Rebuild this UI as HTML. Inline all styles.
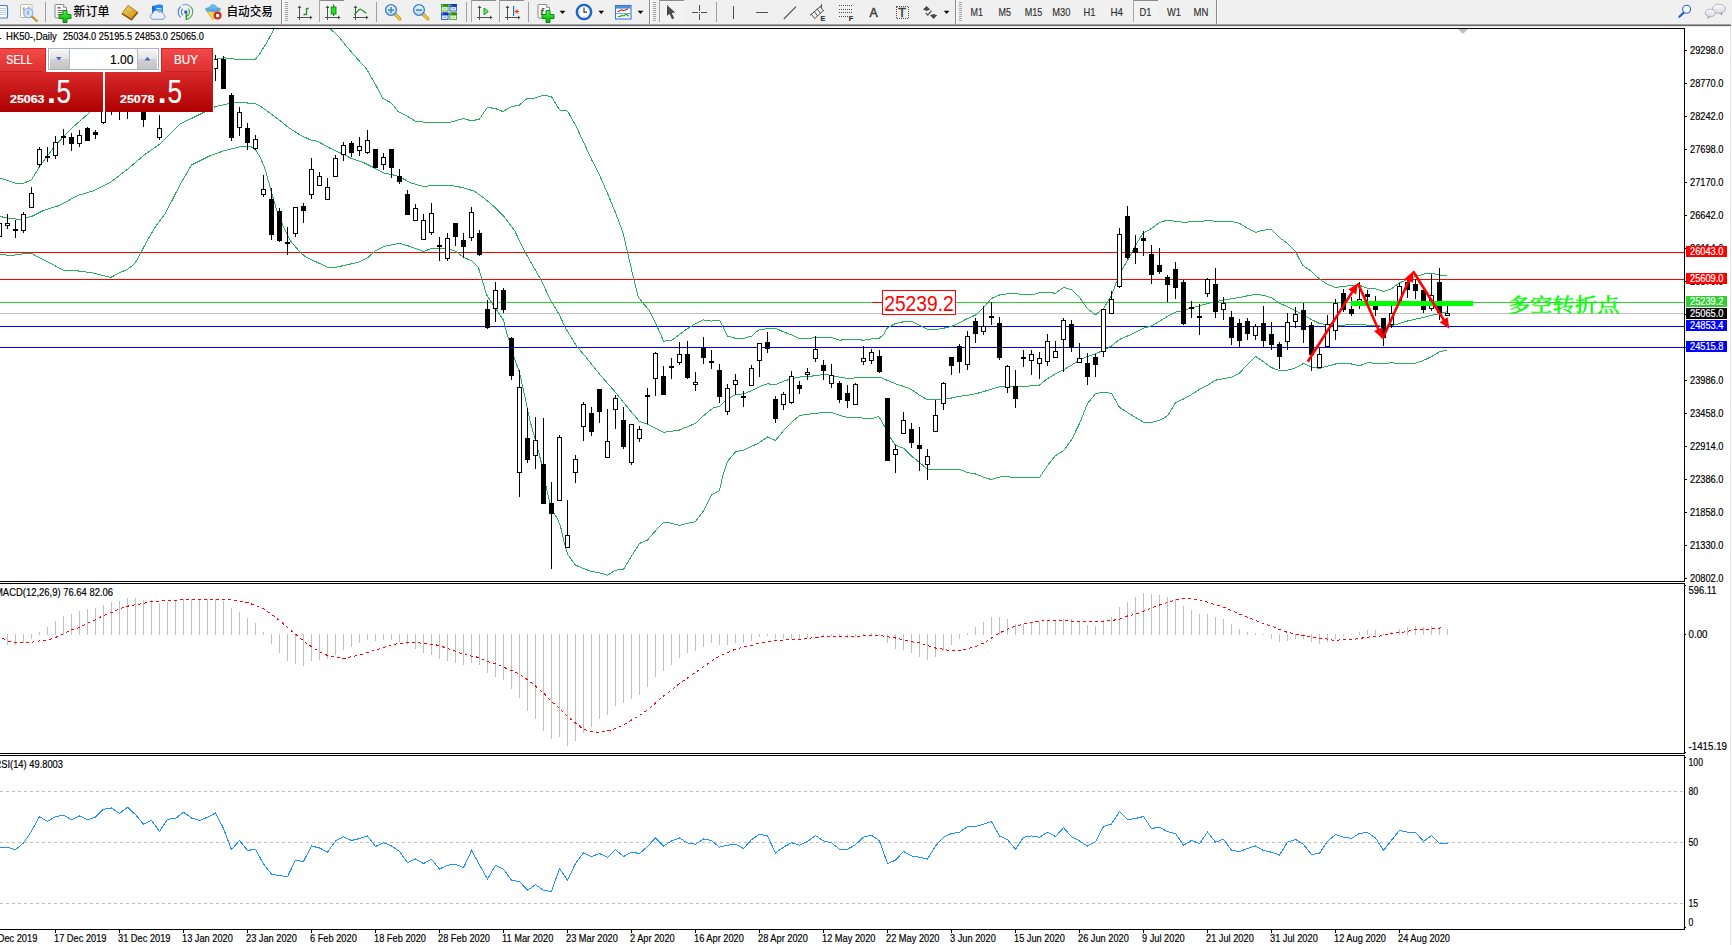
<!DOCTYPE html>
<html lang="zh"><head><meta charset="utf-8"><title>HK50-,Daily</title>
<style>
html,body{margin:0;padding:0;background:#fff;overflow:hidden}
svg{display:block;position:absolute;left:0;top:0}
text{font-family:'Liberation Sans','Noto Sans CJK SC',sans-serif;font-size:10.4px;fill:#000;stroke:#000;stroke-width:0.18px}
.w{fill:#fff;stroke:#fff}
.cj{font-family:'Liberation Serif','Noto Serif CJK SC',serif;font-weight:500}
</style></head><body>
<svg width="1732" height="945" viewBox="0 0 1732 945">
<defs>
<linearGradient id="gbig" x1="0" y1="0" x2="0" y2="1"><stop offset="0" stop-color="#d82a2a"/><stop offset="1" stop-color="#ae0000"/></linearGradient>
<linearGradient id="gbtn" x1="0" y1="0" x2="0" y2="1"><stop offset="0" stop-color="#f24b4b"/><stop offset="1" stop-color="#de3030"/></linearGradient>
<linearGradient id="gsp" x1="0" y1="0" x2="0" y2="1"><stop offset="0" stop-color="#f4f4f4"/><stop offset="0.5" stop-color="#e2e2e2"/><stop offset="0.5" stop-color="#d2d2d2"/><stop offset="1" stop-color="#c4c4c4"/></linearGradient>
<clipPath id="cm"><rect x="0" y="29" width="1684" height="552"/></clipPath>
</defs>
<rect width="1732" height="945" fill="#fff"/>

<g shape-rendering="crispEdges">
<rect x="0" y="0" width="1732" height="25" fill="#f0f0f0"/>
<rect x="0" y="24" width="1731" height="1" fill="#a0a0a0"/>
<rect x="0" y="25" width="1731" height="1" fill="#696969"/>
<rect x="0" y="26" width="1732" height="1" fill="#e3e3e3"/>
<rect x="1730" y="26" width="1" height="919" fill="#e6e6e6"/>
<rect x="1731" y="26" width="1" height="919" fill="#fbfbfb"/>
<rect x="0" y="28" width="1685" height="1" fill="#000"/>
<rect x="1684" y="28" width="1" height="902" fill="#000"/>
<rect x="0" y="581" width="1685" height="1" fill="#000"/>
<rect x="0" y="583" width="1685" height="1" fill="#000"/>
<rect x="0" y="753" width="1685" height="1" fill="#000"/>
<rect x="0" y="755" width="1685" height="1" fill="#000"/>
<rect x="0" y="929" width="1685" height="1" fill="#000"/>
<rect x="1684" y="582" width="1" height="1" fill="#fff"/>
<rect x="1684" y="754" width="1" height="1" fill="#fff"/>
</g>
<g shape-rendering="crispEdges">
<rect x="0" y="252" width="1684" height="1" fill="#ff0000"/>
<rect x="0" y="279" width="1684" height="1" fill="#ff0000"/>
<rect x="0" y="302" width="1684" height="1" fill="#32cd32"/>
<rect x="0" y="313" width="1684" height="1" fill="#c0c0c0"/>
<rect x="0" y="326" width="1684" height="1" fill="#0000ff"/>
<rect x="0" y="347" width="1684" height="1" fill="#0000ff"/>
</g>
<g clip-path="url(#cm)" shape-rendering="crispEdges">
<polyline points="0.0,178.1 15.0,183.1 24.0,183.1 31.6,179.7 39.4,166.9 55.5,145.0 71.4,128.6 87.5,114.3 103.0,100.0 215.7,59.2 223.8,57.8 236.0,59.2 255.6,59.2 260.0,53.4 267.2,41.9 274.3,28.6 275.5,27.0" fill="none" stroke="#28ad63" stroke-width="1" />
<polyline points="329.0,27.0 330.2,28.6 339.0,37.0 347.8,47.9 356.5,57.8 366.4,68.8 374.1,82.0 382.9,98.4 391.6,103.2 398.2,111.6 407.0,116.0 415.8,121.4 428.9,122.5 450.9,122.1 463.0,118.6 471.7,120.8 479.4,119.2 487.1,107.6 494.8,108.3 502.9,111.6 511.2,106.7 518.9,105.4 527.2,98.4 535.3,98.0 543.5,95.1 551.4,96.6 559.5,110.0 567.6,111.1 575.9,125.8 583.6,142.3 591.7,159.8 599.6,175.2 607.7,193.8 615.4,212.5 623.1,232.9 631.6,270.0 634.1,280.0 638.3,296.8 642.5,302.7 649.2,310.2 655.9,323.6 663.6,341.2 671.6,340.3 679.5,334.5 687.5,328.6 695.6,323.6 703.6,319.9 711.6,321.1 719.5,320.2 722.8,326.9 727.5,336.1 735.6,338.3 743.6,338.3 751.6,336.1 758.4,330.2 767.4,328.5 775.5,328.2 783.5,331.9 791.5,334.9 799.4,338.6 807.4,338.9 815.5,337.4 823.5,337.4 831.5,337.4 839.6,340.2 847.6,339.4 855.5,339.4 863.5,340.2 871.6,338.9 879.4,338.2 884.0,333.9 887.5,327.7 895.5,323.5 903.5,321.8 911.6,321.3 919.5,325.2 927.5,329.4 935.5,329.7 943.6,328.2 951.6,326.5 959.5,322.7 967.5,318.5 975.6,315.1 983.6,307.6 991.6,298.4 999.5,295.0 1007.5,293.7 1015.6,293.7 1023.6,294.5 1031.6,295.0 1038.4,292.9 1047.4,292.1 1055.5,293.3 1063.5,287.4 1071.5,289.6 1079.4,297.1 1087.4,308.8 1095.5,314.7 1103.5,308.5 1111.5,295.4 1119.6,273.7 1127.6,260.3 1135.5,245.2 1143.5,232.7 1151.6,228.5 1159.4,222.6 1167.5,220.1 1175.5,221.4 1183.5,222.3 1191.6,221.8 1199.5,221.8 1207.5,220.4 1215.5,221.3 1223.6,221.3 1231.6,221.3 1239.5,223.4 1247.5,228.1 1255.6,232.3 1263.6,230.1 1271.6,229.6 1279.5,237.7 1287.5,243.5 1295.6,251.9 1302.6,265.2 1311.5,271.5 1319.5,279.1 1327.5,284.5 1335.5,287.4 1343.5,286.5 1351.5,285.5 1359.5,285.2 1367.5,288.3 1375.5,288.7 1383.5,291.6 1391.5,288.7 1399.5,282.9 1407.5,279.4 1415.5,276.6 1423.5,274.1 1431.5,273.2 1439.5,275.1 1446.8,275.3" fill="none" stroke="#28ad63" stroke-width="1" />
<polyline points="0.0,216.5 7.5,218.0 19.5,219.5 31.4,216.5 43.6,210.5 60.0,205.2 78.0,195.4 93.0,190.9 111.0,181.9 127.7,169.1 144.3,154.9 159.5,144.3 180.3,124.0 199.9,114.3 214.9,106.8 231.4,103.0 240.5,102.3 255.5,103.8 260.0,106.0 270.0,113.0 279.3,120.0 288.5,127.5 300.2,135.1 310.3,139.8 317.8,141.4 328.7,147.6 343.4,154.3 351.5,158.5 363.9,162.7 375.6,168.6 384.0,173.2 391.5,174.4 399.5,176.9 410.7,182.8 423.5,186.5 434.2,185.3 450.9,185.3 463.5,187.8 474.4,191.2 484.4,198.4 492.8,205.4 504.5,217.1 514.6,230.5 521.3,244.7 528.0,257.3 534.7,269.0 535.3,270.0 542.0,281.7 550.4,300.1 558.7,313.5 565.4,327.8 577.2,347.0 587.2,358.7 600.6,375.5 614.0,390.6 623.5,402.3 631.6,412.3 639.5,421.5 647.5,424.3 655.5,428.4 663.6,432.4 671.6,431.2 679.5,430.0 687.5,426.7 695.6,423.2 703.6,415.7 712.8,408.1 719.5,406.5 727.5,398.9 735.6,394.7 743.6,393.9 751.6,390.6 758.4,387.1 767.4,383.8 775.5,384.6 783.5,381.3 791.5,378.7 799.4,377.1 807.4,376.2 815.5,375.9 823.5,374.2 831.5,375.4 839.6,377.1 847.6,378.4 855.5,377.9 863.5,377.9 871.6,377.9 879.4,377.1 887.5,380.4 895.5,383.8 903.5,386.3 911.6,389.6 919.5,395.2 927.5,399.7 935.5,400.0 943.6,398.8 951.6,398.0 959.5,396.3 967.5,395.2 975.6,393.8 983.6,391.6 991.6,389.1 999.5,386.8 1007.5,385.9 1015.6,386.3 1023.6,386.3 1031.6,385.9 1039.2,385.3 1047.4,378.6 1055.5,373.9 1063.5,369.7 1071.5,365.2 1079.4,360.1 1087.4,356.5 1095.5,353.8 1103.5,350.2 1111.5,346.0 1119.6,339.4 1127.6,336.0 1135.5,332.3 1143.5,328.1 1151.6,325.9 1159.4,321.4 1167.5,316.4 1175.5,312.2 1183.5,310.5 1191.6,308.0 1199.5,305.8 1207.5,303.5 1215.5,301.6 1223.6,300.1 1231.6,298.8 1239.5,297.5 1247.5,295.8 1255.6,294.3 1263.6,295.4 1271.6,297.6 1279.5,303.3 1287.5,306.7 1295.6,310.7 1303.5,314.7 1311.5,319.6 1319.5,323.5 1327.5,324.6 1335.5,325.5 1343.5,325.1 1351.5,324.6 1359.5,324.6 1367.5,325.1 1375.5,325.5 1383.5,326.4 1391.5,325.5 1399.5,323.6 1407.5,321.0 1415.5,319.1 1423.5,317.5 1431.5,315.3 1439.5,313.7 1446.8,311.9" fill="none" stroke="#28ad63" stroke-width="1" />
<polyline points="0.0,254.6 12.1,255.4 22.5,254.0 31.2,253.2 39.8,258.0 52.0,264.1 63.2,270.2 76.2,270.7 91.8,272.8 110.9,277.4 119.5,272.8 128.2,268.9 135.1,263.2 140.3,253.7 147.2,240.5 155.9,226.0 165.3,213.5 180.3,184.2 191.6,164.9 210.4,155.6 225.4,150.3 240.5,146.6 250.0,146.0 255.5,149.8 260.0,156.8 265.0,168.6 271.4,192.0 276.8,210.4 283.5,227.2 290.2,240.6 300.2,252.3 305.3,256.5 317.0,262.3 327.9,267.4 337.1,267.0 350.5,264.0 358.8,262.3 367.2,258.1 375.6,250.6 384.0,246.4 399.5,243.4 407.4,245.6 423.5,251.4 431.5,248.6 439.5,248.6 447.6,248.1 455.6,251.4 463.5,257.3 471.5,260.7 477.7,266.5 479.2,270.0 482.6,281.7 486.7,295.1 493.4,305.2 503.5,320.2 506.0,330.3 511.5,348.7 515.2,360.4 519.4,372.1 523.6,390.6 527.4,409.0 530.3,422.0 534.5,437.1 538.7,452.1 542.0,465.5 546.2,487.3 551.5,509.1 557.1,518.3 560.4,525.8 563.8,540.9 567.6,554.3 575.5,565.2 583.5,568.5 591.6,571.5 599.4,572.7 607.5,575.2 615.5,570.2 623.5,569.4 631.6,556.0 639.5,543.4 647.5,540.0 655.5,530.8 663.6,522.1 671.6,523.3 679.5,525.3 687.5,523.3 695.6,521.6 703.6,510.7 711.6,494.8 719.5,490.7 722.8,475.6 727.5,461.3 735.6,451.8 743.6,450.1 751.6,446.3 758.4,443.2 767.4,437.0 775.5,440.4 783.5,430.7 791.5,422.3 799.4,415.6 807.4,414.2 815.5,413.6 823.5,412.2 831.5,412.6 839.6,415.3 847.6,417.3 855.5,417.6 863.5,418.1 871.6,418.9 878.7,416.3 885.0,427.1 889.8,436.8 895.5,445.2 903.5,448.2 911.4,456.0 919.5,462.5 927.5,469.4 935.4,469.4 943.5,469.4 959.8,469.4 967.5,472.6 975.5,474.0 983.4,477.1 991.4,479.6 999.3,477.1 1004.2,476.1 1012.5,477.5 1039.5,477.5 1047.4,465.6 1055.5,455.6 1063.5,450.9 1071.5,439.7 1079.4,423.8 1087.4,403.7 1095.5,393.6 1103.5,392.3 1111.5,393.3 1119.6,407.5 1127.6,412.6 1135.5,417.4 1143.5,422.1 1151.6,422.4 1159.4,420.4 1167.5,415.9 1175.5,402.8 1183.5,399.0 1191.6,394.5 1199.5,389.4 1207.5,385.3 1215.5,380.2 1223.6,378.6 1231.6,377.2 1239.5,373.2 1247.5,364.3 1255.6,356.3 1263.6,361.8 1271.6,367.7 1279.5,370.5 1287.5,370.2 1295.6,367.9 1303.6,363.4 1311.6,367.3 1319.5,368.4 1327.5,366.1 1335.5,364.0 1343.5,363.6 1351.5,364.0 1359.5,365.8 1367.5,362.7 1375.5,363.2 1383.5,363.6 1391.5,362.7 1399.5,363.6 1407.5,363.6 1415.5,363.2 1423.5,360.4 1431.5,356.6 1439.5,351.8 1446.8,350.3" fill="none" stroke="#28ad63" stroke-width="1" />
</g>
<g clip-path="url(#cm)" shape-rendering="crispEdges">
<rect x="-3.5" y="223.5" width="5" height="13" fill="#fff" stroke="#000" stroke-width="1"/>
<rect x="7" y="214" width="1" height="15" fill="#000"/>
<rect x="5" y="223" width="5" height="3" fill="#000"/>
<rect x="6" y="224" width="3" height="1" fill="#fff"/>
<rect x="15" y="220" width="1" height="18" fill="#000"/>
<rect x="13" y="229" width="5" height="2" fill="#000"/>
<rect x="23" y="212" width="1" height="21" fill="#000"/>
<rect x="21" y="214" width="5" height="17" fill="#000"/>
<rect x="22" y="215" width="3" height="15" fill="#fff"/>
<rect x="31" y="187" width="1" height="21" fill="#000"/>
<rect x="29" y="193" width="5" height="15" fill="#000"/>
<rect x="30" y="194" width="3" height="13" fill="#fff"/>
<rect x="39" y="147" width="1" height="20" fill="#000"/>
<rect x="37" y="149" width="5" height="16" fill="#000"/>
<rect x="38" y="150" width="3" height="14" fill="#fff"/>
<rect x="47" y="147" width="1" height="15" fill="#000"/>
<rect x="45" y="156" width="5" height="2" fill="#000"/>
<rect x="55" y="136" width="1" height="23" fill="#000"/>
<rect x="53" y="142" width="5" height="14" fill="#000"/>
<rect x="54" y="143" width="3" height="12" fill="#fff"/>
<rect x="63" y="129" width="1" height="16" fill="#000"/>
<rect x="61" y="136" width="5" height="2" fill="#000"/>
<rect x="71" y="133" width="1" height="18" fill="#000"/>
<rect x="69" y="137" width="5" height="7" fill="#000"/>
<rect x="79" y="130" width="1" height="17" fill="#000"/>
<rect x="77" y="135" width="5" height="9" fill="#000"/>
<rect x="78" y="136" width="3" height="7" fill="#fff"/>
<rect x="87" y="127" width="1" height="14" fill="#000"/>
<rect x="85" y="128" width="5" height="13" fill="#000"/>
<rect x="95" y="130" width="1" height="9" fill="#000"/>
<rect x="93" y="132" width="5" height="3" fill="#000"/>
<rect x="103" y="100" width="1" height="24" fill="#000"/>
<rect x="101" y="100" width="5" height="23" fill="#000"/>
<rect x="102" y="101" width="3" height="21" fill="#fff"/>
<rect x="111" y="100" width="1" height="15" fill="#000"/>
<rect x="109" y="100" width="5" height="11" fill="#000"/>
<rect x="110" y="101" width="3" height="9" fill="#fff"/>
<rect x="119" y="100" width="1" height="20" fill="#000"/>
<rect x="117" y="100" width="5" height="11" fill="#000"/>
<rect x="118" y="101" width="3" height="9" fill="#fff"/>
<rect x="127" y="100" width="1" height="19" fill="#000"/>
<rect x="125" y="100" width="5" height="11" fill="#000"/>
<rect x="126" y="101" width="3" height="9" fill="#fff"/>
<rect x="143" y="100" width="1" height="27" fill="#000"/>
<rect x="141" y="100" width="5" height="20" fill="#000"/>
<rect x="159" y="115" width="1" height="25" fill="#000"/>
<rect x="157" y="128" width="5" height="10" fill="#000"/>
<rect x="158" y="129" width="3" height="8" fill="#fff"/>
<rect x="215" y="55" width="1" height="26" fill="#000"/>
<rect x="213" y="59" width="5" height="10" fill="#000"/>
<rect x="214" y="60" width="3" height="8" fill="#fff"/>
<rect x="223" y="56" width="1" height="33" fill="#000"/>
<rect x="221" y="59" width="5" height="30" fill="#000"/>
<rect x="231" y="93" width="1" height="48" fill="#000"/>
<rect x="229" y="95" width="5" height="43" fill="#000"/>
<rect x="239" y="107" width="1" height="29" fill="#000"/>
<rect x="237" y="112" width="5" height="16" fill="#000"/>
<rect x="238" y="113" width="3" height="14" fill="#fff"/>
<rect x="247" y="123" width="1" height="27" fill="#000"/>
<rect x="245" y="128" width="5" height="15" fill="#000"/>
<rect x="255" y="135" width="1" height="15" fill="#000"/>
<rect x="253" y="139" width="5" height="10" fill="#000"/>
<rect x="254" y="140" width="3" height="8" fill="#fff"/>
<rect x="263" y="175" width="1" height="22" fill="#000"/>
<rect x="261" y="189" width="5" height="6" fill="#000"/>
<rect x="262" y="190" width="3" height="4" fill="#fff"/>
<rect x="271" y="188" width="1" height="52" fill="#000"/>
<rect x="269" y="199" width="5" height="36" fill="#000"/>
<rect x="279" y="208" width="1" height="34" fill="#000"/>
<rect x="277" y="211" width="5" height="30" fill="#000"/>
<rect x="287" y="227" width="1" height="28" fill="#000"/>
<rect x="285" y="242" width="5" height="2" fill="#000"/>
<rect x="295" y="207" width="1" height="30" fill="#000"/>
<rect x="293" y="207" width="5" height="27" fill="#000"/>
<rect x="294" y="208" width="3" height="25" fill="#fff"/>
<rect x="303" y="203" width="1" height="20" fill="#000"/>
<rect x="301" y="206" width="5" height="5" fill="#000"/>
<rect x="311" y="158" width="1" height="41" fill="#000"/>
<rect x="309" y="169" width="5" height="26" fill="#000"/>
<rect x="310" y="170" width="3" height="24" fill="#fff"/>
<rect x="319" y="172" width="1" height="14" fill="#000"/>
<rect x="317" y="176" width="5" height="10" fill="#000"/>
<rect x="318" y="177" width="3" height="8" fill="#fff"/>
<rect x="327" y="178" width="1" height="22" fill="#000"/>
<rect x="325" y="187" width="5" height="13" fill="#000"/>
<rect x="326" y="188" width="3" height="11" fill="#fff"/>
<rect x="335" y="155" width="1" height="22" fill="#000"/>
<rect x="333" y="158" width="5" height="19" fill="#000"/>
<rect x="334" y="159" width="3" height="17" fill="#fff"/>
<rect x="343" y="142" width="1" height="19" fill="#000"/>
<rect x="341" y="145" width="5" height="10" fill="#000"/>
<rect x="342" y="146" width="3" height="8" fill="#fff"/>
<rect x="351" y="141" width="1" height="16" fill="#000"/>
<rect x="349" y="143" width="5" height="10" fill="#000"/>
<rect x="359" y="137" width="1" height="19" fill="#000"/>
<rect x="357" y="146" width="5" height="5" fill="#000"/>
<rect x="358" y="147" width="3" height="3" fill="#fff"/>
<rect x="367" y="130" width="1" height="24" fill="#000"/>
<rect x="365" y="140" width="5" height="13" fill="#000"/>
<rect x="366" y="141" width="3" height="11" fill="#fff"/>
<rect x="375" y="149" width="1" height="19" fill="#000"/>
<rect x="373" y="149" width="5" height="19" fill="#000"/>
<rect x="383" y="153" width="1" height="17" fill="#000"/>
<rect x="381" y="157" width="5" height="8" fill="#000"/>
<rect x="382" y="158" width="3" height="6" fill="#fff"/>
<rect x="391" y="149" width="1" height="29" fill="#000"/>
<rect x="389" y="149" width="5" height="19" fill="#000"/>
<rect x="399" y="169" width="1" height="15" fill="#000"/>
<rect x="397" y="176" width="5" height="6" fill="#000"/>
<rect x="407" y="190" width="1" height="25" fill="#000"/>
<rect x="405" y="194" width="5" height="21" fill="#000"/>
<rect x="415" y="204" width="1" height="17" fill="#000"/>
<rect x="413" y="208" width="5" height="13" fill="#000"/>
<rect x="414" y="209" width="3" height="11" fill="#fff"/>
<rect x="423" y="214" width="1" height="26" fill="#000"/>
<rect x="421" y="220" width="5" height="20" fill="#000"/>
<rect x="422" y="221" width="3" height="18" fill="#fff"/>
<rect x="431" y="203" width="1" height="32" fill="#000"/>
<rect x="429" y="213" width="5" height="20" fill="#000"/>
<rect x="430" y="214" width="3" height="18" fill="#fff"/>
<rect x="439" y="237" width="1" height="24" fill="#000"/>
<rect x="437" y="245" width="5" height="2" fill="#000"/>
<rect x="447" y="233" width="1" height="28" fill="#000"/>
<rect x="445" y="238" width="5" height="21" fill="#000"/>
<rect x="446" y="239" width="3" height="19" fill="#fff"/>
<rect x="455" y="223" width="1" height="23" fill="#000"/>
<rect x="453" y="223" width="5" height="14" fill="#000"/>
<rect x="463" y="233" width="1" height="25" fill="#000"/>
<rect x="461" y="240" width="5" height="7" fill="#000"/>
<rect x="471" y="207" width="1" height="34" fill="#000"/>
<rect x="469" y="212" width="5" height="26" fill="#000"/>
<rect x="470" y="213" width="3" height="24" fill="#fff"/>
<rect x="479" y="230" width="1" height="26" fill="#000"/>
<rect x="477" y="233" width="5" height="22" fill="#000"/>
<rect x="487" y="300" width="1" height="29" fill="#000"/>
<rect x="485" y="309" width="5" height="19" fill="#000"/>
<rect x="495" y="282" width="1" height="40" fill="#000"/>
<rect x="493" y="290" width="5" height="19" fill="#000"/>
<rect x="494" y="291" width="3" height="17" fill="#fff"/>
<rect x="503" y="288" width="1" height="25" fill="#000"/>
<rect x="501" y="290" width="5" height="20" fill="#000"/>
<rect x="511" y="337" width="1" height="43" fill="#000"/>
<rect x="509" y="338" width="5" height="38" fill="#000"/>
<rect x="519" y="370" width="1" height="127" fill="#000"/>
<rect x="517" y="387" width="5" height="86" fill="#000"/>
<rect x="518" y="388" width="3" height="84" fill="#fff"/>
<rect x="527" y="408" width="1" height="55" fill="#000"/>
<rect x="525" y="438" width="5" height="22" fill="#000"/>
<rect x="535" y="417" width="1" height="52" fill="#000"/>
<rect x="533" y="440" width="5" height="16" fill="#000"/>
<rect x="534" y="441" width="3" height="14" fill="#fff"/>
<rect x="543" y="418" width="1" height="86" fill="#000"/>
<rect x="541" y="464" width="5" height="40" fill="#000"/>
<rect x="551" y="482" width="1" height="87" fill="#000"/>
<rect x="549" y="503" width="5" height="11" fill="#000"/>
<rect x="559" y="435" width="1" height="66" fill="#000"/>
<rect x="557" y="437" width="5" height="64" fill="#000"/>
<rect x="558" y="438" width="3" height="62" fill="#fff"/>
<rect x="567" y="500" width="1" height="48" fill="#000"/>
<rect x="565" y="535" width="5" height="13" fill="#000"/>
<rect x="566" y="536" width="3" height="11" fill="#fff"/>
<rect x="575" y="455" width="1" height="28" fill="#000"/>
<rect x="573" y="459" width="5" height="14" fill="#000"/>
<rect x="574" y="460" width="3" height="12" fill="#fff"/>
<rect x="583" y="402" width="1" height="39" fill="#000"/>
<rect x="581" y="404" width="5" height="23" fill="#000"/>
<rect x="582" y="405" width="3" height="21" fill="#fff"/>
<rect x="591" y="407" width="1" height="29" fill="#000"/>
<rect x="589" y="413" width="5" height="19" fill="#000"/>
<rect x="599" y="389" width="1" height="34" fill="#000"/>
<rect x="597" y="389" width="5" height="23" fill="#000"/>
<rect x="607" y="409" width="1" height="49" fill="#000"/>
<rect x="605" y="441" width="5" height="17" fill="#000"/>
<rect x="606" y="442" width="3" height="15" fill="#fff"/>
<rect x="615" y="395" width="1" height="34" fill="#000"/>
<rect x="613" y="398" width="5" height="12" fill="#000"/>
<rect x="614" y="399" width="3" height="10" fill="#fff"/>
<rect x="623" y="407" width="1" height="42" fill="#000"/>
<rect x="621" y="420" width="5" height="27" fill="#000"/>
<rect x="631" y="424" width="1" height="41" fill="#000"/>
<rect x="629" y="424" width="5" height="39" fill="#000"/>
<rect x="630" y="425" width="3" height="37" fill="#fff"/>
<rect x="639" y="426" width="1" height="16" fill="#000"/>
<rect x="637" y="429" width="5" height="10" fill="#000"/>
<rect x="638" y="430" width="3" height="8" fill="#fff"/>
<rect x="647" y="388" width="1" height="36" fill="#000"/>
<rect x="645" y="395" width="5" height="2" fill="#000"/>
<rect x="655" y="352" width="1" height="44" fill="#000"/>
<rect x="653" y="353" width="5" height="26" fill="#000"/>
<rect x="654" y="354" width="3" height="24" fill="#fff"/>
<rect x="663" y="366" width="1" height="29" fill="#000"/>
<rect x="661" y="376" width="5" height="19" fill="#000"/>
<rect x="671" y="358" width="1" height="21" fill="#000"/>
<rect x="669" y="366" width="5" height="2" fill="#000"/>
<rect x="679" y="342" width="1" height="23" fill="#000"/>
<rect x="677" y="354" width="5" height="9" fill="#000"/>
<rect x="678" y="355" width="3" height="7" fill="#fff"/>
<rect x="687" y="341" width="1" height="38" fill="#000"/>
<rect x="685" y="354" width="5" height="24" fill="#000"/>
<rect x="695" y="372" width="1" height="19" fill="#000"/>
<rect x="693" y="382" width="5" height="3" fill="#000"/>
<rect x="694" y="383" width="3" height="1" fill="#fff"/>
<rect x="703" y="337" width="1" height="27" fill="#000"/>
<rect x="701" y="348" width="5" height="10" fill="#000"/>
<rect x="711" y="350" width="1" height="19" fill="#000"/>
<rect x="709" y="361" width="5" height="2" fill="#000"/>
<rect x="719" y="364" width="1" height="39" fill="#000"/>
<rect x="717" y="370" width="5" height="27" fill="#000"/>
<rect x="727" y="384" width="1" height="31" fill="#000"/>
<rect x="725" y="388" width="5" height="24" fill="#000"/>
<rect x="726" y="389" width="3" height="22" fill="#fff"/>
<rect x="735" y="374" width="1" height="21" fill="#000"/>
<rect x="733" y="380" width="5" height="5" fill="#000"/>
<rect x="734" y="381" width="3" height="3" fill="#fff"/>
<rect x="743" y="391" width="1" height="16" fill="#000"/>
<rect x="741" y="396" width="5" height="2" fill="#000"/>
<rect x="751" y="365" width="1" height="21" fill="#000"/>
<rect x="749" y="368" width="5" height="18" fill="#000"/>
<rect x="750" y="369" width="3" height="16" fill="#fff"/>
<rect x="759" y="343" width="1" height="34" fill="#000"/>
<rect x="757" y="343" width="5" height="18" fill="#000"/>
<rect x="758" y="344" width="3" height="16" fill="#fff"/>
<rect x="767" y="332" width="1" height="21" fill="#000"/>
<rect x="765" y="342" width="5" height="7" fill="#000"/>
<rect x="775" y="396" width="1" height="27" fill="#000"/>
<rect x="773" y="399" width="5" height="20" fill="#000"/>
<rect x="783" y="392" width="1" height="18" fill="#000"/>
<rect x="781" y="394" width="5" height="11" fill="#000"/>
<rect x="782" y="395" width="3" height="9" fill="#fff"/>
<rect x="791" y="371" width="1" height="33" fill="#000"/>
<rect x="789" y="376" width="5" height="27" fill="#000"/>
<rect x="790" y="377" width="3" height="25" fill="#fff"/>
<rect x="799" y="381" width="1" height="13" fill="#000"/>
<rect x="797" y="385" width="5" height="4" fill="#000"/>
<rect x="807" y="368" width="1" height="12" fill="#000"/>
<rect x="805" y="372" width="5" height="3" fill="#000"/>
<rect x="806" y="373" width="3" height="1" fill="#fff"/>
<rect x="815" y="336" width="1" height="26" fill="#000"/>
<rect x="813" y="349" width="5" height="10" fill="#000"/>
<rect x="814" y="350" width="3" height="8" fill="#fff"/>
<rect x="823" y="360" width="1" height="20" fill="#000"/>
<rect x="821" y="365" width="5" height="6" fill="#000"/>
<rect x="831" y="364" width="1" height="24" fill="#000"/>
<rect x="829" y="375" width="5" height="9" fill="#000"/>
<rect x="830" y="376" width="3" height="7" fill="#fff"/>
<rect x="839" y="381" width="1" height="22" fill="#000"/>
<rect x="837" y="383" width="5" height="17" fill="#000"/>
<rect x="847" y="385" width="1" height="23" fill="#000"/>
<rect x="845" y="393" width="5" height="8" fill="#000"/>
<rect x="855" y="383" width="1" height="22" fill="#000"/>
<rect x="853" y="384" width="5" height="21" fill="#000"/>
<rect x="854" y="385" width="3" height="19" fill="#fff"/>
<rect x="863" y="346" width="1" height="19" fill="#000"/>
<rect x="861" y="358" width="5" height="4" fill="#000"/>
<rect x="862" y="359" width="3" height="2" fill="#fff"/>
<rect x="871" y="349" width="1" height="15" fill="#000"/>
<rect x="869" y="352" width="5" height="9" fill="#000"/>
<rect x="870" y="353" width="3" height="7" fill="#fff"/>
<rect x="879" y="350" width="1" height="23" fill="#000"/>
<rect x="877" y="356" width="5" height="16" fill="#000"/>
<rect x="887" y="398" width="1" height="63" fill="#000"/>
<rect x="885" y="398" width="5" height="63" fill="#000"/>
<rect x="895" y="445" width="1" height="28" fill="#000"/>
<rect x="893" y="449" width="5" height="6" fill="#000"/>
<rect x="894" y="450" width="3" height="4" fill="#fff"/>
<rect x="903" y="412" width="1" height="22" fill="#000"/>
<rect x="901" y="420" width="5" height="14" fill="#000"/>
<rect x="902" y="421" width="3" height="12" fill="#fff"/>
<rect x="911" y="423" width="1" height="25" fill="#000"/>
<rect x="909" y="429" width="5" height="14" fill="#000"/>
<rect x="919" y="427" width="1" height="44" fill="#000"/>
<rect x="917" y="445" width="5" height="4" fill="#000"/>
<rect x="927" y="449" width="1" height="31" fill="#000"/>
<rect x="925" y="456" width="5" height="9" fill="#000"/>
<rect x="926" y="457" width="3" height="7" fill="#fff"/>
<rect x="935" y="400" width="1" height="32" fill="#000"/>
<rect x="933" y="415" width="5" height="17" fill="#000"/>
<rect x="934" y="416" width="3" height="15" fill="#fff"/>
<rect x="943" y="382" width="1" height="28" fill="#000"/>
<rect x="941" y="383" width="5" height="21" fill="#000"/>
<rect x="942" y="384" width="3" height="19" fill="#fff"/>
<rect x="951" y="357" width="1" height="18" fill="#000"/>
<rect x="949" y="357" width="5" height="9" fill="#000"/>
<rect x="959" y="344" width="1" height="29" fill="#000"/>
<rect x="957" y="346" width="5" height="16" fill="#000"/>
<rect x="967" y="331" width="1" height="39" fill="#000"/>
<rect x="965" y="336" width="5" height="29" fill="#000"/>
<rect x="966" y="337" width="3" height="27" fill="#fff"/>
<rect x="975" y="318" width="1" height="25" fill="#000"/>
<rect x="973" y="321" width="5" height="13" fill="#000"/>
<rect x="983" y="306" width="1" height="29" fill="#000"/>
<rect x="981" y="326" width="5" height="6" fill="#000"/>
<rect x="982" y="327" width="3" height="4" fill="#fff"/>
<rect x="991" y="302" width="1" height="23" fill="#000"/>
<rect x="989" y="316" width="5" height="2" fill="#000"/>
<rect x="999" y="317" width="1" height="43" fill="#000"/>
<rect x="997" y="323" width="5" height="35" fill="#000"/>
<rect x="1007" y="365" width="1" height="28" fill="#000"/>
<rect x="1005" y="366" width="5" height="22" fill="#000"/>
<rect x="1006" y="367" width="3" height="20" fill="#fff"/>
<rect x="1015" y="370" width="1" height="38" fill="#000"/>
<rect x="1013" y="386" width="5" height="13" fill="#000"/>
<rect x="1023" y="350" width="1" height="17" fill="#000"/>
<rect x="1021" y="357" width="5" height="2" fill="#000"/>
<rect x="1031" y="350" width="1" height="25" fill="#000"/>
<rect x="1029" y="354" width="5" height="7" fill="#000"/>
<rect x="1030" y="355" width="3" height="5" fill="#fff"/>
<rect x="1039" y="352" width="1" height="27" fill="#000"/>
<rect x="1037" y="358" width="5" height="6" fill="#000"/>
<rect x="1038" y="359" width="3" height="4" fill="#fff"/>
<rect x="1047" y="334" width="1" height="32" fill="#000"/>
<rect x="1045" y="341" width="5" height="21" fill="#000"/>
<rect x="1046" y="342" width="3" height="19" fill="#fff"/>
<rect x="1055" y="341" width="1" height="17" fill="#000"/>
<rect x="1053" y="351" width="5" height="7" fill="#000"/>
<rect x="1054" y="352" width="3" height="5" fill="#fff"/>
<rect x="1063" y="318" width="1" height="54" fill="#000"/>
<rect x="1061" y="320" width="5" height="20" fill="#000"/>
<rect x="1062" y="321" width="3" height="18" fill="#fff"/>
<rect x="1071" y="320" width="1" height="32" fill="#000"/>
<rect x="1069" y="324" width="5" height="24" fill="#000"/>
<rect x="1079" y="343" width="1" height="20" fill="#000"/>
<rect x="1077" y="358" width="5" height="5" fill="#000"/>
<rect x="1078" y="359" width="3" height="3" fill="#fff"/>
<rect x="1087" y="353" width="1" height="32" fill="#000"/>
<rect x="1085" y="363" width="5" height="14" fill="#000"/>
<rect x="1095" y="354" width="1" height="23" fill="#000"/>
<rect x="1093" y="357" width="5" height="8" fill="#000"/>
<rect x="1103" y="309" width="1" height="48" fill="#000"/>
<rect x="1101" y="309" width="5" height="43" fill="#000"/>
<rect x="1102" y="310" width="3" height="41" fill="#fff"/>
<rect x="1111" y="291" width="1" height="23" fill="#000"/>
<rect x="1109" y="299" width="5" height="15" fill="#000"/>
<rect x="1110" y="300" width="3" height="13" fill="#fff"/>
<rect x="1119" y="228" width="1" height="60" fill="#000"/>
<rect x="1117" y="234" width="5" height="53" fill="#000"/>
<rect x="1118" y="235" width="3" height="51" fill="#fff"/>
<rect x="1127" y="206" width="1" height="53" fill="#000"/>
<rect x="1125" y="216" width="5" height="42" fill="#000"/>
<rect x="1135" y="235" width="1" height="29" fill="#000"/>
<rect x="1133" y="248" width="5" height="5" fill="#000"/>
<rect x="1143" y="231" width="1" height="25" fill="#000"/>
<rect x="1141" y="238" width="5" height="3" fill="#000"/>
<rect x="1151" y="245" width="1" height="39" fill="#000"/>
<rect x="1149" y="254" width="5" height="21" fill="#000"/>
<rect x="1159" y="248" width="1" height="26" fill="#000"/>
<rect x="1157" y="265" width="5" height="7" fill="#000"/>
<rect x="1167" y="275" width="1" height="27" fill="#000"/>
<rect x="1165" y="277" width="5" height="8" fill="#000"/>
<rect x="1175" y="262" width="1" height="37" fill="#000"/>
<rect x="1173" y="269" width="5" height="19" fill="#000"/>
<rect x="1183" y="280" width="1" height="45" fill="#000"/>
<rect x="1181" y="282" width="5" height="42" fill="#000"/>
<rect x="1191" y="301" width="1" height="17" fill="#000"/>
<rect x="1189" y="307" width="5" height="2" fill="#000"/>
<rect x="1199" y="304" width="1" height="31" fill="#000"/>
<rect x="1197" y="316" width="5" height="2" fill="#000"/>
<rect x="1207" y="278" width="1" height="19" fill="#000"/>
<rect x="1205" y="279" width="5" height="15" fill="#000"/>
<rect x="1206" y="280" width="3" height="13" fill="#fff"/>
<rect x="1215" y="268" width="1" height="50" fill="#000"/>
<rect x="1213" y="284" width="5" height="28" fill="#000"/>
<rect x="1223" y="297" width="1" height="23" fill="#000"/>
<rect x="1221" y="303" width="5" height="7" fill="#000"/>
<rect x="1222" y="304" width="3" height="5" fill="#fff"/>
<rect x="1231" y="311" width="1" height="34" fill="#000"/>
<rect x="1229" y="317" width="5" height="21" fill="#000"/>
<rect x="1239" y="319" width="1" height="28" fill="#000"/>
<rect x="1237" y="323" width="5" height="18" fill="#000"/>
<rect x="1247" y="318" width="1" height="22" fill="#000"/>
<rect x="1245" y="321" width="5" height="13" fill="#000"/>
<rect x="1255" y="324" width="1" height="16" fill="#000"/>
<rect x="1253" y="326" width="5" height="10" fill="#000"/>
<rect x="1254" y="327" width="3" height="8" fill="#fff"/>
<rect x="1263" y="306" width="1" height="41" fill="#000"/>
<rect x="1261" y="323" width="5" height="18" fill="#000"/>
<rect x="1271" y="322" width="1" height="28" fill="#000"/>
<rect x="1269" y="334" width="5" height="11" fill="#000"/>
<rect x="1279" y="342" width="1" height="27" fill="#000"/>
<rect x="1277" y="344" width="5" height="13" fill="#000"/>
<rect x="1287" y="313" width="1" height="37" fill="#000"/>
<rect x="1285" y="322" width="5" height="20" fill="#000"/>
<rect x="1286" y="323" width="3" height="18" fill="#fff"/>
<rect x="1295" y="307" width="1" height="21" fill="#000"/>
<rect x="1293" y="314" width="5" height="8" fill="#000"/>
<rect x="1294" y="315" width="3" height="6" fill="#fff"/>
<rect x="1303" y="303" width="1" height="40" fill="#000"/>
<rect x="1301" y="310" width="5" height="20" fill="#000"/>
<rect x="1311" y="322" width="1" height="49" fill="#000"/>
<rect x="1309" y="325" width="5" height="30" fill="#000"/>
<rect x="1319" y="348" width="1" height="20" fill="#000"/>
<rect x="1317" y="354" width="5" height="14" fill="#000"/>
<rect x="1318" y="355" width="3" height="12" fill="#fff"/>
<rect x="1327" y="315" width="1" height="32" fill="#000"/>
<rect x="1325" y="324" width="5" height="23" fill="#000"/>
<rect x="1326" y="325" width="3" height="21" fill="#fff"/>
<rect x="1335" y="299" width="1" height="41" fill="#000"/>
<rect x="1333" y="303" width="5" height="28" fill="#000"/>
<rect x="1334" y="304" width="3" height="26" fill="#fff"/>
<rect x="1343" y="289" width="1" height="23" fill="#000"/>
<rect x="1341" y="293" width="5" height="17" fill="#000"/>
<rect x="1351" y="297" width="1" height="19" fill="#000"/>
<rect x="1349" y="309" width="5" height="5" fill="#000"/>
<rect x="1359" y="282" width="1" height="27" fill="#000"/>
<rect x="1357" y="299" width="5" height="5" fill="#000"/>
<rect x="1358" y="300" width="3" height="3" fill="#fff"/>
<rect x="1367" y="290" width="1" height="11" fill="#000"/>
<rect x="1365" y="294" width="5" height="3" fill="#000"/>
<rect x="1375" y="296" width="1" height="20" fill="#000"/>
<rect x="1373" y="306" width="5" height="4" fill="#000"/>
<rect x="1383" y="318" width="1" height="28" fill="#000"/>
<rect x="1381" y="318" width="5" height="20" fill="#000"/>
<rect x="1391" y="306" width="1" height="22" fill="#000"/>
<rect x="1389" y="313" width="5" height="12" fill="#000"/>
<rect x="1390" y="314" width="3" height="10" fill="#fff"/>
<rect x="1399" y="283" width="1" height="20" fill="#000"/>
<rect x="1397" y="286" width="5" height="17" fill="#000"/>
<rect x="1398" y="287" width="3" height="15" fill="#fff"/>
<rect x="1407" y="280" width="1" height="18" fill="#000"/>
<rect x="1405" y="282" width="5" height="8" fill="#000"/>
<rect x="1415" y="279" width="1" height="20" fill="#000"/>
<rect x="1413" y="284" width="5" height="7" fill="#000"/>
<rect x="1423" y="290" width="1" height="23" fill="#000"/>
<rect x="1421" y="290" width="5" height="20" fill="#000"/>
<rect x="1431" y="274" width="1" height="37" fill="#000"/>
<rect x="1429" y="295" width="5" height="14" fill="#000"/>
<rect x="1430" y="296" width="3" height="12" fill="#fff"/>
<rect x="1439" y="268" width="1" height="52" fill="#000"/>
<rect x="1437" y="282" width="5" height="31" fill="#000"/>
<rect x="1447" y="306" width="1" height="10" fill="#000"/>
<rect x="1445" y="313" width="5" height="3" fill="#000"/>
<rect x="1446" y="314" width="3" height="1" fill="#fff"/>
</g>
<rect x="1351" y="301" width="122" height="5" fill="#00ff00" shape-rendering="crispEdges"/>
<line x1="1307.7" y1="361.7" x2="1353.3" y2="290.4" stroke="#ff0000" stroke-width="2.6"/><polygon points="1357.9,283.2 1356.2,294.6 1348.3,289.5" fill="#ff0000"/>
<line x1="1357.9" y1="283.2" x2="1379.1" y2="331.0" stroke="#ff0000" stroke-width="2.6"/><polygon points="1382.6,338.8 1374.0,331.1 1382.6,327.3" fill="#ff0000"/>
<line x1="1382.6" y1="338.8" x2="1409.6" y2="279.0" stroke="#ff0000" stroke-width="2.6"/><polygon points="1413.1,271.3 1413.1,282.8 1404.5,278.9" fill="#ff0000"/>
<line x1="1413.1" y1="271.3" x2="1444.8" y2="321.5" stroke="#ff0000" stroke-width="2.6"/><polygon points="1449.3,328.7 1439.7,322.3 1447.7,317.3" fill="#ff0000"/>
<rect x="872" y="302" width="11" height="1" fill="#ff0000" shape-rendering="crispEdges"/>
<rect x="882.5" y="290.5" width="73" height="24" fill="#fff" stroke="#ff0000" stroke-width="1" shape-rendering="crispEdges"/>
<text x="884.2" y="310.8" style="font-size:22px;fill:#ff0000;stroke:none" textLength="69.5" lengthAdjust="spacingAndGlyphs">25239.2</text>
<text class="cj" x="1508" y="312.3" style="font-size:19.6px;fill:#00ff00;stroke:#00ff00;stroke-width:0.3" textLength="111.5" lengthAdjust="spacingAndGlyphs">多空转折点</text>
<g shape-rendering="crispEdges">
<rect x="7" y="634" width="1" height="11" fill="#c0c0c0"/>
<rect x="15" y="634" width="1" height="11" fill="#c0c0c0"/>
<rect x="23" y="634" width="1" height="9" fill="#c0c0c0"/>
<rect x="31" y="634" width="1" height="5" fill="#c0c0c0"/>
<rect x="39" y="632" width="1" height="3" fill="#c0c0c0"/>
<rect x="47" y="627" width="1" height="8" fill="#c0c0c0"/>
<rect x="55" y="621" width="1" height="14" fill="#c0c0c0"/>
<rect x="63" y="616" width="1" height="19" fill="#c0c0c0"/>
<rect x="71" y="614" width="1" height="21" fill="#c0c0c0"/>
<rect x="79" y="611" width="1" height="24" fill="#c0c0c0"/>
<rect x="87" y="609" width="1" height="26" fill="#c0c0c0"/>
<rect x="95" y="608" width="1" height="27" fill="#c0c0c0"/>
<rect x="103" y="605" width="1" height="30" fill="#c0c0c0"/>
<rect x="111" y="602" width="1" height="33" fill="#c0c0c0"/>
<rect x="119" y="601" width="1" height="34" fill="#c0c0c0"/>
<rect x="127" y="598" width="1" height="37" fill="#c0c0c0"/>
<rect x="135" y="598" width="1" height="37" fill="#c0c0c0"/>
<rect x="143" y="600" width="1" height="35" fill="#c0c0c0"/>
<rect x="151" y="600" width="1" height="35" fill="#c0c0c0"/>
<rect x="159" y="603" width="1" height="32" fill="#c0c0c0"/>
<rect x="167" y="602" width="1" height="33" fill="#c0c0c0"/>
<rect x="175" y="601" width="1" height="34" fill="#c0c0c0"/>
<rect x="183" y="599" width="1" height="36" fill="#c0c0c0"/>
<rect x="191" y="599" width="1" height="36" fill="#c0c0c0"/>
<rect x="199" y="599" width="1" height="36" fill="#c0c0c0"/>
<rect x="207" y="599" width="1" height="36" fill="#c0c0c0"/>
<rect x="215" y="599" width="1" height="36" fill="#c0c0c0"/>
<rect x="223" y="601" width="1" height="34" fill="#c0c0c0"/>
<rect x="231" y="608" width="1" height="27" fill="#c0c0c0"/>
<rect x="239" y="612" width="1" height="23" fill="#c0c0c0"/>
<rect x="247" y="618" width="1" height="17" fill="#c0c0c0"/>
<rect x="255" y="623" width="1" height="12" fill="#c0c0c0"/>
<rect x="263" y="632" width="1" height="3" fill="#c0c0c0"/>
<rect x="271" y="634" width="1" height="10" fill="#c0c0c0"/>
<rect x="279" y="634" width="1" height="19" fill="#c0c0c0"/>
<rect x="287" y="634" width="1" height="27" fill="#c0c0c0"/>
<rect x="295" y="634" width="1" height="30" fill="#c0c0c0"/>
<rect x="303" y="634" width="1" height="32" fill="#c0c0c0"/>
<rect x="311" y="634" width="1" height="27" fill="#c0c0c0"/>
<rect x="319" y="634" width="1" height="26" fill="#c0c0c0"/>
<rect x="327" y="634" width="1" height="25" fill="#c0c0c0"/>
<rect x="335" y="634" width="1" height="21" fill="#c0c0c0"/>
<rect x="343" y="634" width="1" height="16" fill="#c0c0c0"/>
<rect x="351" y="634" width="1" height="13" fill="#c0c0c0"/>
<rect x="359" y="634" width="1" height="9" fill="#c0c0c0"/>
<rect x="367" y="634" width="1" height="6" fill="#c0c0c0"/>
<rect x="375" y="634" width="1" height="7" fill="#c0c0c0"/>
<rect x="383" y="634" width="1" height="6" fill="#c0c0c0"/>
<rect x="391" y="634" width="1" height="6" fill="#c0c0c0"/>
<rect x="399" y="634" width="1" height="8" fill="#c0c0c0"/>
<rect x="407" y="634" width="1" height="11" fill="#c0c0c0"/>
<rect x="415" y="634" width="1" height="15" fill="#c0c0c0"/>
<rect x="423" y="634" width="1" height="19" fill="#c0c0c0"/>
<rect x="431" y="634" width="1" height="21" fill="#c0c0c0"/>
<rect x="439" y="634" width="1" height="25" fill="#c0c0c0"/>
<rect x="447" y="634" width="1" height="27" fill="#c0c0c0"/>
<rect x="455" y="634" width="1" height="29" fill="#c0c0c0"/>
<rect x="463" y="634" width="1" height="31" fill="#c0c0c0"/>
<rect x="471" y="634" width="1" height="29" fill="#c0c0c0"/>
<rect x="479" y="634" width="1" height="31" fill="#c0c0c0"/>
<rect x="487" y="634" width="1" height="39" fill="#c0c0c0"/>
<rect x="495" y="634" width="1" height="43" fill="#c0c0c0"/>
<rect x="503" y="634" width="1" height="46" fill="#c0c0c0"/>
<rect x="511" y="634" width="1" height="55" fill="#c0c0c0"/>
<rect x="519" y="634" width="1" height="64" fill="#c0c0c0"/>
<rect x="527" y="634" width="1" height="77" fill="#c0c0c0"/>
<rect x="535" y="634" width="1" height="85" fill="#c0c0c0"/>
<rect x="543" y="634" width="1" height="97" fill="#c0c0c0"/>
<rect x="551" y="634" width="1" height="105" fill="#c0c0c0"/>
<rect x="559" y="634" width="1" height="103" fill="#c0c0c0"/>
<rect x="567" y="634" width="1" height="112" fill="#c0c0c0"/>
<rect x="575" y="634" width="1" height="107" fill="#c0c0c0"/>
<rect x="583" y="634" width="1" height="99" fill="#c0c0c0"/>
<rect x="591" y="634" width="1" height="93" fill="#c0c0c0"/>
<rect x="599" y="634" width="1" height="85" fill="#c0c0c0"/>
<rect x="607" y="634" width="1" height="81" fill="#c0c0c0"/>
<rect x="615" y="634" width="1" height="72" fill="#c0c0c0"/>
<rect x="623" y="634" width="1" height="69" fill="#c0c0c0"/>
<rect x="631" y="634" width="1" height="65" fill="#c0c0c0"/>
<rect x="639" y="634" width="1" height="61" fill="#c0c0c0"/>
<rect x="647" y="634" width="1" height="53" fill="#c0c0c0"/>
<rect x="655" y="634" width="1" height="43" fill="#c0c0c0"/>
<rect x="663" y="634" width="1" height="37" fill="#c0c0c0"/>
<rect x="671" y="634" width="1" height="31" fill="#c0c0c0"/>
<rect x="679" y="634" width="1" height="24" fill="#c0c0c0"/>
<rect x="687" y="634" width="1" height="19" fill="#c0c0c0"/>
<rect x="695" y="634" width="1" height="17" fill="#c0c0c0"/>
<rect x="703" y="634" width="1" height="13" fill="#c0c0c0"/>
<rect x="711" y="634" width="1" height="9" fill="#c0c0c0"/>
<rect x="719" y="634" width="1" height="11" fill="#c0c0c0"/>
<rect x="727" y="634" width="1" height="11" fill="#c0c0c0"/>
<rect x="735" y="634" width="1" height="9" fill="#c0c0c0"/>
<rect x="743" y="634" width="1" height="9" fill="#c0c0c0"/>
<rect x="751" y="634" width="1" height="7" fill="#c0c0c0"/>
<rect x="759" y="634" width="1" height="3" fill="#c0c0c0"/>
<rect x="767" y="634" width="1" height="2" fill="#c0c0c0"/>
<rect x="775" y="634" width="1" height="5" fill="#c0c0c0"/>
<rect x="783" y="634" width="1" height="5" fill="#c0c0c0"/>
<rect x="791" y="634" width="1" height="5" fill="#c0c0c0"/>
<rect x="799" y="634" width="1" height="5" fill="#c0c0c0"/>
<rect x="807" y="634" width="1" height="4" fill="#c0c0c0"/>
<rect x="815" y="634" width="1" height="1" fill="#c0c0c0"/>
<rect x="823" y="634" width="1" height="2" fill="#c0c0c0"/>
<rect x="831" y="634" width="1" height="2" fill="#c0c0c0"/>
<rect x="839" y="634" width="1" height="3" fill="#c0c0c0"/>
<rect x="847" y="634" width="1" height="4" fill="#c0c0c0"/>
<rect x="855" y="634" width="1" height="3" fill="#c0c0c0"/>
<rect x="863" y="634" width="1" height="1" fill="#c0c0c0"/>
<rect x="871" y="633" width="1" height="2" fill="#c0c0c0"/>
<rect x="879" y="634" width="1" height="1" fill="#c0c0c0"/>
<rect x="887" y="634" width="1" height="9" fill="#c0c0c0"/>
<rect x="895" y="634" width="1" height="15" fill="#c0c0c0"/>
<rect x="903" y="634" width="1" height="16" fill="#c0c0c0"/>
<rect x="911" y="634" width="1" height="19" fill="#c0c0c0"/>
<rect x="919" y="634" width="1" height="23" fill="#c0c0c0"/>
<rect x="927" y="634" width="1" height="26" fill="#c0c0c0"/>
<rect x="935" y="634" width="1" height="23" fill="#c0c0c0"/>
<rect x="943" y="634" width="1" height="17" fill="#c0c0c0"/>
<rect x="951" y="634" width="1" height="11" fill="#c0c0c0"/>
<rect x="959" y="634" width="1" height="5" fill="#c0c0c0"/>
<rect x="967" y="633" width="1" height="2" fill="#c0c0c0"/>
<rect x="975" y="627" width="1" height="8" fill="#c0c0c0"/>
<rect x="983" y="622" width="1" height="13" fill="#c0c0c0"/>
<rect x="991" y="617" width="1" height="18" fill="#c0c0c0"/>
<rect x="999" y="617" width="1" height="18" fill="#c0c0c0"/>
<rect x="1007" y="619" width="1" height="16" fill="#c0c0c0"/>
<rect x="1015" y="624" width="1" height="11" fill="#c0c0c0"/>
<rect x="1023" y="624" width="1" height="11" fill="#c0c0c0"/>
<rect x="1031" y="622" width="1" height="13" fill="#c0c0c0"/>
<rect x="1039" y="622" width="1" height="13" fill="#c0c0c0"/>
<rect x="1047" y="620" width="1" height="15" fill="#c0c0c0"/>
<rect x="1055" y="621" width="1" height="14" fill="#c0c0c0"/>
<rect x="1063" y="619" width="1" height="16" fill="#c0c0c0"/>
<rect x="1071" y="619" width="1" height="16" fill="#c0c0c0"/>
<rect x="1079" y="621" width="1" height="14" fill="#c0c0c0"/>
<rect x="1087" y="625" width="1" height="10" fill="#c0c0c0"/>
<rect x="1095" y="626" width="1" height="9" fill="#c0c0c0"/>
<rect x="1103" y="620" width="1" height="15" fill="#c0c0c0"/>
<rect x="1111" y="617" width="1" height="18" fill="#c0c0c0"/>
<rect x="1119" y="607" width="1" height="28" fill="#c0c0c0"/>
<rect x="1127" y="602" width="1" height="33" fill="#c0c0c0"/>
<rect x="1135" y="597" width="1" height="38" fill="#c0c0c0"/>
<rect x="1143" y="593" width="1" height="42" fill="#c0c0c0"/>
<rect x="1151" y="594" width="1" height="41" fill="#c0c0c0"/>
<rect x="1159" y="595" width="1" height="40" fill="#c0c0c0"/>
<rect x="1167" y="597" width="1" height="38" fill="#c0c0c0"/>
<rect x="1175" y="599" width="1" height="36" fill="#c0c0c0"/>
<rect x="1183" y="606" width="1" height="29" fill="#c0c0c0"/>
<rect x="1191" y="610" width="1" height="25" fill="#c0c0c0"/>
<rect x="1199" y="614" width="1" height="21" fill="#c0c0c0"/>
<rect x="1207" y="614" width="1" height="21" fill="#c0c0c0"/>
<rect x="1215" y="617" width="1" height="18" fill="#c0c0c0"/>
<rect x="1223" y="619" width="1" height="16" fill="#c0c0c0"/>
<rect x="1231" y="624" width="1" height="11" fill="#c0c0c0"/>
<rect x="1239" y="629" width="1" height="6" fill="#c0c0c0"/>
<rect x="1247" y="632" width="1" height="3" fill="#c0c0c0"/>
<rect x="1255" y="633" width="1" height="2" fill="#c0c0c0"/>
<rect x="1263" y="634" width="1" height="1" fill="#c0c0c0"/>
<rect x="1271" y="634" width="1" height="5" fill="#c0c0c0"/>
<rect x="1279" y="634" width="1" height="8" fill="#c0c0c0"/>
<rect x="1287" y="634" width="1" height="7" fill="#c0c0c0"/>
<rect x="1295" y="634" width="1" height="5" fill="#c0c0c0"/>
<rect x="1303" y="634" width="1" height="5" fill="#c0c0c0"/>
<rect x="1311" y="634" width="1" height="8" fill="#c0c0c0"/>
<rect x="1319" y="634" width="1" height="10" fill="#c0c0c0"/>
<rect x="1327" y="634" width="1" height="8" fill="#c0c0c0"/>
<rect x="1335" y="634" width="1" height="5" fill="#c0c0c0"/>
<rect x="1343" y="634" width="1" height="2" fill="#c0c0c0"/>
<rect x="1351" y="634" width="1" height="1" fill="#c0c0c0"/>
<rect x="1359" y="632" width="1" height="3" fill="#c0c0c0"/>
<rect x="1367" y="630" width="1" height="5" fill="#c0c0c0"/>
<rect x="1375" y="630" width="1" height="5" fill="#c0c0c0"/>
<rect x="1383" y="633" width="1" height="2" fill="#c0c0c0"/>
<rect x="1391" y="632" width="1" height="3" fill="#c0c0c0"/>
<rect x="1399" y="629" width="1" height="6" fill="#c0c0c0"/>
<rect x="1407" y="627" width="1" height="8" fill="#c0c0c0"/>
<rect x="1415" y="626" width="1" height="9" fill="#c0c0c0"/>
<rect x="1423" y="627" width="1" height="8" fill="#c0c0c0"/>
<rect x="1431" y="626" width="1" height="9" fill="#c0c0c0"/>
<rect x="1439" y="627" width="1" height="8" fill="#c0c0c0"/>
<rect x="1447" y="629" width="1" height="6" fill="#c0c0c0"/>
<polyline points="2.5,638.0 7.5,641.0 15.5,642.2 23.5,642.5 31.5,642.2 39.5,641.0 47.5,640.0 55.5,637.5 63.5,633.7 71.5,630.0 79.5,627.5 87.5,623.0 95.5,619.7 103.5,615.5 111.5,612.5 119.5,608.7 127.5,606.2 135.5,604.7 143.5,603.5 151.5,601.2 159.5,601.2 167.5,600.5 175.5,600.5 183.5,599.5 191.5,599.5 199.5,599.5 207.5,599.5 215.5,599.5 223.5,599.5 231.5,600.0 239.5,601.2 247.5,602.5 255.5,605.5 263.5,608.7 271.5,614.2 279.5,620.5 287.5,627.5 295.5,634.2 303.5,641.0 311.5,646.7 319.5,651.7 327.5,655.5 335.5,656.7 343.5,658.5 351.5,656.7 359.5,655.0 367.5,652.5 375.5,650.0 383.5,647.5 391.5,644.7 399.5,643.5 407.5,642.5 415.5,642.5 423.5,643.5 431.5,644.2 439.5,645.5 447.5,648.5 455.5,651.2 463.5,654.2 471.5,656.2 479.5,657.5 487.5,661.7 495.5,663.5 503.5,667.2 511.5,670.5 519.5,674.2 527.5,679.7 535.5,686.0 543.5,693.0 551.5,701.7 559.5,708.0 567.5,716.7 575.5,723.0 583.5,729.2 591.5,731.7 599.5,732.2 607.5,731.0 615.5,728.7 623.5,725.0 631.5,720.0 639.5,715.5 647.5,710.0 655.5,703.0 663.5,696.0 671.5,690.0 679.5,683.5 687.5,678.0 695.5,672.5 703.5,666.7 711.5,661.2 719.5,656.0 727.5,652.5 735.5,649.2 743.5,647.2 751.5,645.5 759.5,643.0 767.5,641.7 775.5,640.5 783.5,640.0 791.5,639.7 799.5,639.2 807.5,638.5 815.5,637.5 823.5,636.2 831.5,636.2 839.5,636.2 847.5,636.2 855.5,636.2 863.5,636.0 871.5,635.5 879.5,635.5 887.5,636.7 895.5,638.0 903.5,639.7 911.5,641.7 919.5,643.0 927.5,645.5 935.5,648.0 943.5,649.2 951.5,651.0 959.5,650.5 967.5,648.7 975.5,646.7 983.5,643.0 991.5,638.0 999.5,633.0 1007.5,629.2 1015.5,626.0 1023.5,624.2 1031.5,622.5 1039.5,621.2 1047.5,620.5 1055.5,620.5 1063.5,620.5 1071.5,621.2 1079.5,621.5 1087.5,621.5 1095.5,621.5 1103.5,621.5 1111.5,620.5 1119.5,619.2 1127.5,616.0 1135.5,614.2 1143.5,611.2 1151.5,608.0 1159.5,605.0 1167.5,602.5 1175.5,600.0 1183.5,598.5 1191.5,598.5 1199.5,600.5 1207.5,602.2 1215.5,604.7 1223.5,607.2 1231.5,610.5 1239.5,614.2 1247.5,617.2 1255.5,620.5 1263.5,623.5 1271.5,626.0 1279.5,629.5 1287.5,632.4 1294.0,633.7 1299.0,634.5 1305.4,635.8 1311.5,637.5 1317.5,638.1 1323.2,638.1 1328.9,639.6 1335.5,640.4 1343.5,639.6 1353.7,639.4 1359.5,638.5 1365.7,637.5 1371.5,636.6 1377.8,636.5 1383.5,635.3 1389.2,633.9 1395.6,632.8 1401.3,632.4 1407.5,631.4 1413.4,629.8 1419.7,629.5 1425.4,629.5 1431.5,628.6 1437.5,628.6 1443.9,627.3" fill="none" stroke="#ff0000" stroke-width="1" stroke-dasharray="3 3"/>
</g>
<g shape-rendering="crispEdges">
<line x1="0" y1="791.5" x2="1684" y2="791.5" stroke="#c0c0c0" stroke-width="1" stroke-dasharray="3 3"/>
<line x1="0" y1="842.5" x2="1684" y2="842.5" stroke="#c0c0c0" stroke-width="1" stroke-dasharray="3 3"/>
<line x1="0" y1="903.5" x2="1684" y2="903.5" stroke="#c0c0c0" stroke-width="1" stroke-dasharray="3 3"/>
<polyline points="-0.5,847.2 7.5,847.2 15.5,849.7 23.5,843.0 31.5,831.0 39.5,816.7 47.5,821.5 55.5,816.7 63.5,815.2 71.5,819.7 79.5,816.0 87.5,819.7 95.5,817.2 103.5,809.2 111.5,808.0 119.5,813.5 127.5,807.2 135.5,814.7 143.5,824.2 151.5,820.2 159.5,831.5 167.5,819.2 175.5,818.5 183.5,812.2 191.5,818.0 199.5,820.5 207.5,817.2 215.5,813.0 223.5,828.5 231.5,849.7 239.5,840.5 247.5,850.5 255.5,849.2 263.5,864.0 271.5,874.2 279.5,875.5 287.5,876.7 295.5,860.2 303.5,861.5 311.5,846.0 319.5,848.0 327.5,852.2 335.5,841.0 343.5,836.7 351.5,840.5 359.5,838.5 367.5,836.0 375.5,846.5 383.5,842.7 391.5,846.0 399.5,851.5 407.5,862.7 415.5,859.0 423.5,863.5 431.5,859.2 439.5,869.0 447.5,865.2 455.5,864.2 463.5,867.7 471.5,850.5 479.5,864.7 487.5,879.2 495.5,865.2 503.5,869.2 511.5,880.2 519.5,881.5 527.5,890.2 535.5,884.7 543.5,890.5 551.5,891.5 559.5,868.5 567.5,880.2 575.5,863.5 583.5,853.0 591.5,856.5 599.5,853.5 607.5,857.2 615.5,849.7 623.5,856.5 631.5,852.2 639.5,853.5 647.5,846.5 655.5,838.0 663.5,846.0 671.5,841.0 679.5,838.0 687.5,843.0 695.5,844.2 703.5,839.0 711.5,840.5 719.5,847.2 727.5,845.2 735.5,844.2 743.5,848.5 751.5,839.7 759.5,834.2 767.5,836.0 775.5,853.0 783.5,847.2 791.5,842.7 799.5,845.2 807.5,841.5 815.5,835.5 823.5,841.0 831.5,842.7 839.5,849.2 847.5,849.2 855.5,844.7 863.5,837.2 871.5,835.2 879.5,841.0 887.5,863.5 895.5,860.2 903.5,851.5 911.5,856.0 919.5,857.2 927.5,859.0 935.5,846.0 943.5,837.2 951.5,833.5 959.5,832.2 967.5,826.5 975.5,826.5 983.5,824.2 991.5,821.5 999.5,836.0 1007.5,839.7 1015.5,849.2 1023.5,837.2 1031.5,836.0 1039.5,837.2 1047.5,832.2 1055.5,836.5 1063.5,827.7 1071.5,836.7 1079.5,841.0 1087.5,846.0 1095.5,841.7 1103.5,826.5 1111.5,824.0 1119.5,811.5 1127.5,819.7 1135.5,818.5 1143.5,816.5 1151.5,828.5 1159.5,827.2 1167.5,831.7 1175.5,833.5 1183.5,845.2 1191.5,840.5 1199.5,843.5 1207.5,832.2 1215.5,842.2 1223.5,839.2 1231.5,850.2 1239.5,851.5 1247.5,848.5 1255.5,846.0 1263.5,850.5 1271.5,852.2 1279.5,855.0 1287.5,842.2 1295.5,839.4 1303.5,844.5 1311.5,854.5 1319.5,853.4 1327.5,841.4 1335.5,834.5 1343.5,837.3 1351.5,838.4 1359.5,833.4 1367.5,832.5 1375.5,838.0 1383.5,850.3 1391.5,840.2 1399.5,830.4 1407.5,832.2 1415.5,832.2 1423.5,841.4 1431.5,835.6 1439.5,843.4 1447.5,843.4" fill="none" stroke="#1e90ff" stroke-width="1" />
</g>
<g shape-rendering="crispEdges">
<rect x="1685" y="50" width="2" height="1" fill="#000"/>
<rect x="1685" y="83" width="2" height="1" fill="#000"/>
<rect x="1685" y="116" width="2" height="1" fill="#000"/>
<rect x="1685" y="149" width="2" height="1" fill="#000"/>
<rect x="1685" y="182" width="2" height="1" fill="#000"/>
<rect x="1685" y="215" width="2" height="1" fill="#000"/>
<rect x="1685" y="248" width="2" height="1" fill="#000"/>
<rect x="1685" y="281" width="2" height="1" fill="#000"/>
<rect x="1685" y="314" width="2" height="1" fill="#000"/>
<rect x="1685" y="347" width="2" height="1" fill="#000"/>
<rect x="1685" y="380" width="2" height="1" fill="#000"/>
<rect x="1685" y="413" width="2" height="1" fill="#000"/>
<rect x="1685" y="446" width="2" height="1" fill="#000"/>
<rect x="1685" y="479" width="2" height="1" fill="#000"/>
<rect x="1685" y="512" width="2" height="1" fill="#000"/>
<rect x="1685" y="545" width="2" height="1" fill="#000"/>
<rect x="1685" y="578" width="2" height="1" fill="#000"/>
<rect x="1685" y="585" width="1" height="1" fill="#000"/>
<rect x="1685" y="634" width="1" height="1" fill="#000"/>
<rect x="1685" y="752" width="1" height="1" fill="#000"/>
<rect x="1685" y="757" width="1" height="1" fill="#000"/>
<rect x="1685" y="927" width="1" height="1" fill="#000"/>
</g>
<text x="1690" y="53.5" textLength="33.5" lengthAdjust="spacingAndGlyphs">29298.0</text>
<text x="1690" y="86.5" textLength="33.5" lengthAdjust="spacingAndGlyphs">28770.0</text>
<text x="1690" y="119.5" textLength="33.5" lengthAdjust="spacingAndGlyphs">28242.0</text>
<text x="1690" y="152.5" textLength="33.5" lengthAdjust="spacingAndGlyphs">27698.0</text>
<text x="1690" y="185.5" textLength="33.5" lengthAdjust="spacingAndGlyphs">27170.0</text>
<text x="1690" y="218.5" textLength="33.5" lengthAdjust="spacingAndGlyphs">26642.0</text>
<text x="1690" y="251.5" textLength="33.5" lengthAdjust="spacingAndGlyphs">26114.0</text>
<text x="1690" y="284.5" textLength="33.5" lengthAdjust="spacingAndGlyphs">25570.0</text>
<text x="1690" y="317.5" textLength="33.5" lengthAdjust="spacingAndGlyphs">25042.0</text>
<text x="1690" y="350.5" textLength="33.5" lengthAdjust="spacingAndGlyphs">24514.0</text>
<text x="1690" y="383.5" textLength="33.5" lengthAdjust="spacingAndGlyphs">23986.0</text>
<text x="1690" y="416.5" textLength="33.5" lengthAdjust="spacingAndGlyphs">23458.0</text>
<text x="1690" y="449.5" textLength="33.5" lengthAdjust="spacingAndGlyphs">22914.0</text>
<text x="1690" y="482.5" textLength="33.5" lengthAdjust="spacingAndGlyphs">22386.0</text>
<text x="1690" y="515.5" textLength="33.5" lengthAdjust="spacingAndGlyphs">21858.0</text>
<text x="1690" y="548.5" textLength="33.5" lengthAdjust="spacingAndGlyphs">21330.0</text>
<text x="1690" y="581.5" textLength="33.5" lengthAdjust="spacingAndGlyphs">20802.0</text>
<g shape-rendering="crispEdges">
<rect x="1686" y="246" width="41" height="11" fill="#ff0000"/>
<rect x="1686" y="273" width="41" height="11" fill="#ff0000"/>
<rect x="1686" y="296" width="41" height="11" fill="#32cd32"/>
<rect x="1686" y="308" width="41" height="11" fill="#000000"/>
<rect x="1686" y="320" width="41" height="11" fill="#0000ff"/>
<rect x="1686" y="341" width="41" height="11" fill="#0000ff"/>
</g>
<text class="w" x="1690" y="255" textLength="33.5" lengthAdjust="spacingAndGlyphs">26043.0</text>
<text class="w" x="1690" y="282" textLength="33.5" lengthAdjust="spacingAndGlyphs">25609.0</text>
<text class="w" x="1690" y="305" textLength="33.5" lengthAdjust="spacingAndGlyphs">25239.2</text>
<text class="w" x="1690" y="317" textLength="33.5" lengthAdjust="spacingAndGlyphs">25065.0</text>
<text class="w" x="1690" y="329" textLength="33.5" lengthAdjust="spacingAndGlyphs">24853.4</text>
<text class="w" x="1690" y="350" textLength="33.5" lengthAdjust="spacingAndGlyphs">24515.8</text>
<text x="1688.5" y="594" textLength="28" lengthAdjust="spacingAndGlyphs">596.11</text>
<text x="1688.5" y="637.5" textLength="19" lengthAdjust="spacingAndGlyphs">0.00</text>
<text x="1688.5" y="749.5" textLength="38.5" lengthAdjust="spacingAndGlyphs">-1415.19</text>
<text x="1688.5" y="766" textLength="14.5" lengthAdjust="spacingAndGlyphs">100</text>
<text x="1688.5" y="794.5" textLength="9.7" lengthAdjust="spacingAndGlyphs">80</text>
<text x="1688.5" y="845.5" textLength="9.7" lengthAdjust="spacingAndGlyphs">50</text>
<text x="1688.5" y="907" textLength="9.7" lengthAdjust="spacingAndGlyphs">15</text>
<text x="1688.5" y="925.5" textLength="4.8" lengthAdjust="spacingAndGlyphs">0</text>
<rect x="0" y="38" width="1" height="1" fill="#000" shape-rendering="crispEdges"/>
<text x="6" y="40" textLength="50.8" lengthAdjust="spacingAndGlyphs">HK50-,Daily</text>
<text x="62.9" y="40" textLength="141" lengthAdjust="spacingAndGlyphs">25034.0 25195.5 24853.0 25065.0</text>
<text x="-5" y="596" textLength="118" lengthAdjust="spacingAndGlyphs">MACD(12,26,9) 76.64 82.06</text>
<text x="-5.5" y="768" textLength="68.5" lengthAdjust="spacingAndGlyphs">RSI(14) 49.8003</text>
<g shape-rendering="crispEdges">
<rect x="-9" y="930" width="1" height="3" fill="#000"/>
<rect x="55" y="930" width="1" height="3" fill="#000"/>
<rect x="119" y="930" width="1" height="3" fill="#000"/>
<rect x="183" y="930" width="1" height="3" fill="#000"/>
<rect x="247" y="930" width="1" height="3" fill="#000"/>
<rect x="311" y="930" width="1" height="3" fill="#000"/>
<rect x="375" y="930" width="1" height="3" fill="#000"/>
<rect x="439" y="930" width="1" height="3" fill="#000"/>
<rect x="503" y="930" width="1" height="3" fill="#000"/>
<rect x="567" y="930" width="1" height="3" fill="#000"/>
<rect x="631" y="930" width="1" height="3" fill="#000"/>
<rect x="695" y="930" width="1" height="3" fill="#000"/>
<rect x="759" y="930" width="1" height="3" fill="#000"/>
<rect x="823" y="930" width="1" height="3" fill="#000"/>
<rect x="887" y="930" width="1" height="3" fill="#000"/>
<rect x="951" y="930" width="1" height="3" fill="#000"/>
<rect x="1015" y="930" width="1" height="3" fill="#000"/>
<rect x="1079" y="930" width="1" height="3" fill="#000"/>
<rect x="1143" y="930" width="1" height="3" fill="#000"/>
<rect x="1207" y="930" width="1" height="3" fill="#000"/>
<rect x="1271" y="930" width="1" height="3" fill="#000"/>
<rect x="1335" y="930" width="1" height="3" fill="#000"/>
<rect x="1399" y="930" width="1" height="3" fill="#000"/>
</g>
<text x="-10" y="942" textLength="47.3" lengthAdjust="spacingAndGlyphs">5 Dec 2019</text>
<text x="54" y="942" textLength="52.5" lengthAdjust="spacingAndGlyphs">17 Dec 2019</text>
<text x="118" y="942" textLength="52.5" lengthAdjust="spacingAndGlyphs">31 Dec 2019</text>
<text x="182" y="942" textLength="50.9" lengthAdjust="spacingAndGlyphs">13 Jan 2020</text>
<text x="246" y="942" textLength="50.9" lengthAdjust="spacingAndGlyphs">23 Jan 2020</text>
<text x="310" y="942" textLength="46.8" lengthAdjust="spacingAndGlyphs">6 Feb 2020</text>
<text x="374" y="942" textLength="52.0" lengthAdjust="spacingAndGlyphs">18 Feb 2020</text>
<text x="438" y="942" textLength="52.0" lengthAdjust="spacingAndGlyphs">28 Feb 2020</text>
<text x="502" y="942" textLength="51.3" lengthAdjust="spacingAndGlyphs">11 Mar 2020</text>
<text x="566" y="942" textLength="51.9" lengthAdjust="spacingAndGlyphs">23 Mar 2020</text>
<text x="630" y="942" textLength="44.7" lengthAdjust="spacingAndGlyphs">2 Apr 2020</text>
<text x="694" y="942" textLength="49.9" lengthAdjust="spacingAndGlyphs">16 Apr 2020</text>
<text x="758" y="942" textLength="49.9" lengthAdjust="spacingAndGlyphs">28 Apr 2020</text>
<text x="822" y="942" textLength="53.5" lengthAdjust="spacingAndGlyphs">12 May 2020</text>
<text x="886" y="942" textLength="53.5" lengthAdjust="spacingAndGlyphs">22 May 2020</text>
<text x="950" y="942" textLength="45.8" lengthAdjust="spacingAndGlyphs">3 Jun 2020</text>
<text x="1014" y="942" textLength="50.9" lengthAdjust="spacingAndGlyphs">15 Jun 2020</text>
<text x="1078" y="942" textLength="50.9" lengthAdjust="spacingAndGlyphs">26 Jun 2020</text>
<text x="1142" y="942" textLength="42.7" lengthAdjust="spacingAndGlyphs">9 Jul 2020</text>
<text x="1206" y="942" textLength="47.8" lengthAdjust="spacingAndGlyphs">21 Jul 2020</text>
<text x="1270" y="942" textLength="47.8" lengthAdjust="spacingAndGlyphs">31 Jul 2020</text>
<text x="1334" y="942" textLength="52.0" lengthAdjust="spacingAndGlyphs">12 Aug 2020</text>
<text x="1398" y="942" textLength="52.0" lengthAdjust="spacingAndGlyphs">24 Aug 2020</text>
<g shape-rendering="crispEdges">
<rect x="0" y="48" width="214" height="64" fill="#fff"/>
<rect x="0" y="48" width="46" height="24" fill="url(#gbtn)"/>
<rect x="161" y="48" width="52" height="24" fill="url(#gbtn)"/>
<rect x="0" y="72" width="103" height="40" fill="url(#gbig)"/>
<rect x="105" y="72" width="108" height="40" fill="url(#gbig)"/>
<rect x="0" y="71" width="42" height="1" fill="#c82020"/>
<rect x="165" y="71" width="44" height="1" fill="#c82020"/>
<rect x="0" y="48" width="46" height="1" fill="#d62020"/>
<rect x="161" y="48" width="52" height="1" fill="#d62020"/>
<rect x="45" y="48" width="1" height="24" fill="#d62020"/>
<rect x="161" y="48" width="1" height="24" fill="#d62020"/>
<rect x="212" y="48" width="1" height="64" fill="#c41818"/>
<rect x="48.5" y="48.5" width="110" height="21" fill="#fff" stroke="#a9b0c0"/>
<rect x="50" y="50" width="19" height="19" fill="url(#gsp)"/>
<rect x="138" y="50" width="19" height="19" fill="url(#gsp)"/>
<rect x="69" y="49" width="1" height="20" fill="#b4b8c4"/>
<rect x="137" y="49" width="1" height="20" fill="#b4b8c4"/>
</g>
<polygon points="56,57 61.6,57 58.8,60.6" fill="#4a62c8"/>
<polygon points="144.5,60.6 150.5,60.6 147.5,56.8" fill="#4a62c8"/>
<text x="110" y="63.6" style="font-size:13.5px" textLength="23.5" lengthAdjust="spacingAndGlyphs">1.00</text>
<text class="w" x="6.3" y="63.5" style="font-size:12.5px" textLength="26" lengthAdjust="spacingAndGlyphs">SELL</text>
<text class="w" x="174" y="63.5" style="font-size:12.5px" textLength="24" lengthAdjust="spacingAndGlyphs">BUY</text>
<text class="w" x="10" y="102.5" style="font-size:11.5px;font-weight:bold" textLength="34.5" lengthAdjust="spacingAndGlyphs">25063</text>
<text class="w" x="120" y="102.5" style="font-size:11.5px;font-weight:bold" textLength="34.5" lengthAdjust="spacingAndGlyphs">25078</text>
<text class="w" x="47.2" y="102.5" style="font-size:30px;font-weight:bold">.</text>
<text class="w" x="157.9" y="102.5" style="font-size:30px;font-weight:bold">.</text>
<text class="w" x="56.5" y="102.5" style="font-size:34px" textLength="14.5" lengthAdjust="spacingAndGlyphs">5</text>
<text class="w" x="167.5" y="102.5" style="font-size:34px" textLength="14.5" lengthAdjust="spacingAndGlyphs">5</text>
<polygon points="1458,29 1468,29 1463,34" fill="#c0c0c0"/>
<g id="toolbar">
<defs><pattern id="chk" width="2" height="2" patternUnits="userSpaceOnUse"><rect width="2" height="2" fill="#f9f9f9"/><rect width="1" height="1" fill="#ececec"/><rect x="1" y="1" width="1" height="1" fill="#ececec"/></pattern><linearGradient id="gold" x1="0" y1="0" x2="1" y2="1"><stop offset="0" stop-color="#f8d860"/><stop offset="1" stop-color="#c88a18"/></linearGradient><linearGradient id="lens" x1="0" y1="0" x2="0" y2="1"><stop offset="0" stop-color="#eaf5fd"/><stop offset="1" stop-color="#b8dcf4"/></linearGradient><linearGradient id="grn" x1="0" y1="0" x2="0" y2="1"><stop offset="0" stop-color="#5cf05c"/><stop offset="0.55" stop-color="#1ed01e"/><stop offset="1" stop-color="#0cae0c"/></linearGradient><linearGradient id="bub" x1="0" y1="0" x2="0" y2="1"><stop offset="0" stop-color="#ffffff"/><stop offset="1" stop-color="#d6d6e4"/></linearGradient></defs>
<g shape-rendering="crispEdges"><rect x="319" y="0" width="25" height="22" fill="url(#chk)"/><rect x="319" y="0" width="25" height="1" fill="#8a8a8a"/><rect x="319" y="0" width="1" height="22" fill="#a8a8a8"/></g>
<g shape-rendering="crispEdges"><rect x="471" y="0" width="25" height="22" fill="url(#chk)"/><rect x="471" y="0" width="25" height="1" fill="#8a8a8a"/><rect x="471" y="0" width="1" height="22" fill="#a8a8a8"/></g>
<g shape-rendering="crispEdges"><rect x="499" y="0" width="25" height="22" fill="url(#chk)"/><rect x="499" y="0" width="25" height="1" fill="#8a8a8a"/><rect x="499" y="0" width="1" height="22" fill="#a8a8a8"/></g>
<g shape-rendering="crispEdges"><rect x="659" y="0" width="25" height="22" fill="url(#chk)"/><rect x="659" y="0" width="25" height="1" fill="#8a8a8a"/><rect x="659" y="0" width="1" height="22" fill="#a8a8a8"/></g>
<g shape-rendering="crispEdges"><rect x="1133" y="0" width="25" height="22" fill="url(#chk)"/><rect x="1133" y="0" width="25" height="1" fill="#8a8a8a"/><rect x="1133" y="0" width="1" height="22" fill="#a8a8a8"/></g>
<g shape-rendering="crispEdges">
<rect x="45" y="2" width="1" height="20" fill="#a0a0a0"/>
<rect x="376" y="2" width="1" height="20" fill="#a0a0a0"/>
<rect x="466" y="2" width="1" height="20" fill="#a0a0a0"/>
<rect x="528" y="2" width="1" height="20" fill="#a0a0a0"/>
<rect x="716" y="2" width="1" height="20" fill="#a0a0a0"/>
<rect x="281" y="0" width="1" height="24" fill="#8c8c8c"/>
<rect x="282" y="0" width="1" height="24" fill="#fbfbfb"/>
<rect x="649" y="0" width="1" height="24" fill="#8c8c8c"/>
<rect x="650" y="0" width="1" height="24" fill="#fbfbfb"/>
<rect x="955" y="0" width="1" height="24" fill="#8c8c8c"/>
<rect x="956" y="0" width="1" height="24" fill="#fbfbfb"/>
<rect x="1216" y="0" width="1" height="24" fill="#8c8c8c"/>
<rect x="1217" y="0" width="1" height="24" fill="#fbfbfb"/>
<rect x="285" y="2" width="3" height="1" fill="#a6a6a6"/>
<rect x="285" y="4" width="3" height="1" fill="#a6a6a6"/>
<rect x="285" y="6" width="3" height="1" fill="#a6a6a6"/>
<rect x="285" y="8" width="3" height="1" fill="#a6a6a6"/>
<rect x="285" y="10" width="3" height="1" fill="#a6a6a6"/>
<rect x="285" y="12" width="3" height="1" fill="#a6a6a6"/>
<rect x="285" y="14" width="3" height="1" fill="#a6a6a6"/>
<rect x="285" y="16" width="3" height="1" fill="#a6a6a6"/>
<rect x="285" y="18" width="3" height="1" fill="#a6a6a6"/>
<rect x="285" y="20" width="3" height="1" fill="#a6a6a6"/>
<rect x="653" y="2" width="3" height="1" fill="#a6a6a6"/>
<rect x="653" y="4" width="3" height="1" fill="#a6a6a6"/>
<rect x="653" y="6" width="3" height="1" fill="#a6a6a6"/>
<rect x="653" y="8" width="3" height="1" fill="#a6a6a6"/>
<rect x="653" y="10" width="3" height="1" fill="#a6a6a6"/>
<rect x="653" y="12" width="3" height="1" fill="#a6a6a6"/>
<rect x="653" y="14" width="3" height="1" fill="#a6a6a6"/>
<rect x="653" y="16" width="3" height="1" fill="#a6a6a6"/>
<rect x="653" y="18" width="3" height="1" fill="#a6a6a6"/>
<rect x="653" y="20" width="3" height="1" fill="#a6a6a6"/>
<rect x="959" y="2" width="3" height="1" fill="#a6a6a6"/>
<rect x="959" y="4" width="3" height="1" fill="#a6a6a6"/>
<rect x="959" y="6" width="3" height="1" fill="#a6a6a6"/>
<rect x="959" y="8" width="3" height="1" fill="#a6a6a6"/>
<rect x="959" y="10" width="3" height="1" fill="#a6a6a6"/>
<rect x="959" y="12" width="3" height="1" fill="#a6a6a6"/>
<rect x="959" y="14" width="3" height="1" fill="#a6a6a6"/>
<rect x="959" y="16" width="3" height="1" fill="#a6a6a6"/>
<rect x="959" y="18" width="3" height="1" fill="#a6a6a6"/>
<rect x="959" y="20" width="3" height="1" fill="#a6a6a6"/>
</g>
<rect x="-4" y="5.5" width="11.5" height="12.5" rx="1" fill="#fff" stroke="#4a7cc8" stroke-width="1.2"/>
<rect x="0" y="8" width="6" height="1" fill="#b8ccf0"/>
<rect x="0" y="10" width="6" height="1" fill="#b8ccf0"/>
<rect x="0" y="12" width="6" height="1" fill="#b8ccf0"/>
<rect x="0" y="14" width="6" height="1" fill="#b8ccf0"/>
<rect x="20.5" y="4.5" width="11.5" height="13" rx="1" fill="#fdfdfd" stroke="#c8b898" stroke-width="1"/>
<path d="M24 7v8M22.5 9h1.5M24 13h1.5M29 6.5v7M27.5 8h1.5M29 11h1.5" stroke="#909090" stroke-width="1" fill="none"/>
<circle cx="28.3" cy="13" r="4.6" fill="#cfe4f8" fill-opacity="0.85" stroke="#8ab4e8" stroke-width="1.2"/>
<rect x="26.8" y="10.5" width="2.2" height="4.5" fill="#a8b8c8"/>
<line x1="32" y1="16.6" x2="36.8" y2="20.8" stroke="#c8962c" stroke-width="2.2" stroke-linecap="round"/>
<path d="M56 4.5h7.5l3 3v9.5a1 1 0 0 1-1 1h-9.5a1 1 0 0 1-1-1v-11.5a1 1 0 0 1 1-1z" fill="#fdfdfd" stroke="#8a8a8a" stroke-width="1"/>
<path d="M63.5 4.5v3h3" fill="#e8e8e8" stroke="#8a8a8a" stroke-width="0.8"/>
<rect x="57.5" y="7" width="3" height="1.6" fill="#707070"/><rect x="57.5" y="10" width="5.5" height="1" fill="#808080"/><rect x="57.5" y="12" width="5.5" height="1" fill="#808080"/><rect x="57.5" y="14" width="3" height="1" fill="#808080"/>
<path d="M63 10.5h4v4h4v4h-4v4h-4v-4h-4v-4h4z" fill="url(#grn)" stroke="#0a7c0a" stroke-width="0.9"/>
<text x="73.6" y="15.6" style="font-size:12px;fill:#000;font-weight:500;stroke:none" textLength="36" lengthAdjust="spacingAndGlyphs">新订单</text>
<path d="M128 5.3L137.8 12.3L131.5 19.6L122 13.6z" fill="url(#gold)" stroke="#a87014" stroke-width="0.9"/>
<path d="M122 13.6L131.5 19.6L137.8 12.3" fill="none" stroke="#8a5a10" stroke-width="1.6"/>
<path d="M152 6l8-1.8 3 1.3v8h-11z" fill="#2a8ae8"/><path d="M152 6l3 1.5v7h-3z" fill="#1b6fd0"/><rect x="156.5" y="8" width="5" height="1.2" fill="#cfe6ff"/><rect x="156.5" y="10.5" width="5" height="1.2" fill="#cfe6ff"/>
<path d="M153 19.3a3 3 0 0 1-.4-5.9a3.6 3.6 0 0 1 6.6-1.2a3 3 0 0 1 4.4 2.2a2.6 2.6 0 0 1-.6 4.9z" fill="#e9edf4" stroke="#7a92ba" stroke-width="0.9"/>
<g fill="none" stroke-width="1.2"><path d="M180.5 17.5a7.6 7.6 0 0 1 0-11" stroke="#5a84d8"/><path d="M182.8 15.3a4.6 4.6 0 0 1 0-6.6" stroke="#5a84d8"/><path d="M190.5 6.5a7.6 7.6 0 0 1-4 12.8" stroke="#5aa85a"/><path d="M188.2 8.7a4.6 4.6 0 0 1-2 7.6" stroke="#5aa85a"/><path d="M182 5.2a7.6 7.6 0 0 1 8 1" stroke="#88b0c8"/></g>
<rect x="185.6" y="12" width="1.5" height="8" fill="#28a028"/><circle cx="185.8" cy="12" r="1.7" fill="#3060d0"/>
<path d="M206.5 11L219.5 11L213 19.6z" fill="#f2d24e" stroke="#c8a020" stroke-width="0.7"/>
<ellipse cx="213" cy="9.3" rx="8" ry="2.6" fill="#58a8e0"/><path d="M208.8 8.5a4.2 4.2 0 0 1 8.4 0z" fill="#6ab8ec"/>
<circle cx="217.6" cy="15.6" r="4" fill="#d82818"/><rect x="216" y="14" width="3.2" height="3.2" fill="#fff"/>
<text x="226.5" y="15.6" style="font-size:12px;fill:#000;font-weight:500;stroke:none" textLength="46.5" lengthAdjust="spacingAndGlyphs">自动交易</text>
<g shape-rendering="crispEdges" fill="#505050"><rect x="299" y="6" width="1" height="14"/><rect x="297" y="17" width="14" height="1"/></g>
<path d="M297.5 8L299.5 5.5L301.5 8z M310 15.5L312.5 17.5L310 19.5z" fill="#505050"/>
<path d="M306.5 8v7M306.5 8.5h2.2M303.5 14.5h3" stroke="#209020" stroke-width="1.3" fill="none"/>
<g shape-rendering="crispEdges" fill="#505050"><rect x="327" y="6" width="1" height="14"/><rect x="325" y="17" width="14" height="1"/></g>
<path d="M325.5 8L327.5 5.5L329.5 8z M338 15.5L340.5 17.5L338 19.5z" fill="#505050"/>
<rect x="333" y="4.5" width="1.2" height="11.5" fill="#108810"/><rect x="331.2" y="7" width="4.8" height="7" fill="#28dc28" stroke="#108810" stroke-width="0.9"/>
<g shape-rendering="crispEdges" fill="#505050"><rect x="355" y="6" width="1" height="14"/><rect x="353" y="17" width="14" height="1"/></g>
<path d="M353.5 8L355.5 5.5L357.5 8z M366 15.5L368.5 17.5L366 19.5z" fill="#505050"/>
<path d="M354.3 14.8C357 12 359 8.6 360.6 9.2S364 12 366.3 13.2" stroke="#209020" stroke-width="1.2" fill="none"/>
<line x1="395" y1="14.2" x2="399.9" y2="18.9" stroke="#b08a10" stroke-width="3.2" stroke-linecap="round"/><line x1="395" y1="14.2" x2="399.9" y2="18.9" stroke="#f0d040" stroke-width="1.8" stroke-linecap="round"/>
<circle cx="391" cy="10" r="5.4" fill="url(#lens)" stroke="#3a78d0" stroke-width="1.3"/>
<rect x="388" y="9.3" width="6" height="1.5" fill="#3a88c0"/>
<rect x="390.25" y="7" width="1.5" height="6" fill="#3a88c0"/>
<line x1="423" y1="14.2" x2="427.9" y2="18.9" stroke="#b08a10" stroke-width="3.2" stroke-linecap="round"/><line x1="423" y1="14.2" x2="427.9" y2="18.9" stroke="#f0d040" stroke-width="1.8" stroke-linecap="round"/>
<circle cx="419" cy="10" r="5.4" fill="url(#lens)" stroke="#3a78d0" stroke-width="1.3"/>
<rect x="416" y="9.3" width="6" height="1.5" fill="#3a88c0"/>
<rect x="441" y="4" width="7.6" height="7.6" rx="0.6" fill="#58b030"/><rect x="441" y="4" width="7.6" height="2.6" rx="0.6" fill="#2c8a10"/><rect x="441.9" y="4.9" width="1" height="1" fill="#e8f0ff"/><rect x="442.1" y="7.2" width="5.4" height="3.3" fill="#f6faff"/><rect x="443.2" y="8.3" width="3.2" height="1" fill="#58b030" fill-opacity="0.75"/>
<rect x="449.4" y="4" width="7.6" height="7.6" rx="0.6" fill="#3a6ae0"/><rect x="449.4" y="4" width="7.6" height="2.6" rx="0.6" fill="#1038b8"/><rect x="450.29999999999995" y="4.9" width="1" height="1" fill="#e8f0ff"/><rect x="450.5" y="7.2" width="5.4" height="3.3" fill="#f6faff"/><rect x="451.59999999999997" y="8.3" width="3.2" height="1" fill="#3a6ae0" fill-opacity="0.75"/>
<rect x="441" y="12.4" width="7.6" height="7.6" rx="0.6" fill="#3a6ae0"/><rect x="441" y="12.4" width="7.6" height="2.6" rx="0.6" fill="#1038b8"/><rect x="441.9" y="13.3" width="1" height="1" fill="#e8f0ff"/><rect x="442.1" y="15.600000000000001" width="5.4" height="3.3" fill="#f6faff"/><rect x="443.2" y="16.7" width="3.2" height="1" fill="#3a6ae0" fill-opacity="0.75"/>
<rect x="449.4" y="12.4" width="7.6" height="7.6" rx="0.6" fill="#58b030"/><rect x="449.4" y="12.4" width="7.6" height="2.6" rx="0.6" fill="#2c8a10"/><rect x="450.29999999999995" y="13.3" width="1" height="1" fill="#e8f0ff"/><rect x="450.5" y="15.600000000000001" width="5.4" height="3.3" fill="#f6faff"/><rect x="451.59999999999997" y="16.7" width="3.2" height="1" fill="#58b030" fill-opacity="0.75"/>
<g shape-rendering="crispEdges" fill="#505050"><rect x="479" y="6" width="1" height="14"/><rect x="477" y="17" width="14" height="1"/></g>
<path d="M477.5 8L479.5 5.5L481.5 8z M490 15.5L492.5 17.5L490 19.5z" fill="#505050"/>
<path d="M484 8L488.3 11.5L484 15z" fill="#70e070" stroke="#18a018" stroke-width="1"/>
<g shape-rendering="crispEdges" fill="#505050"><rect x="507" y="6" width="1" height="14"/><rect x="505" y="17" width="14" height="1"/></g>
<path d="M505.5 8L507.5 5.5L509.5 8z M518 15.5L520.5 17.5L518 19.5z" fill="#505050"/>
<rect x="513" y="6" width="1.2" height="10" fill="#2070c0"/><path d="M514.5 11.5L517.3 9.3v1.6h1.8v1.2h-1.8v1.6z" fill="#e04010"/><path d="M516 9.5l2 4M516 13.5l2-4" stroke="#e06020" stroke-width="0.6"/>
<path d="M539 4.5h7.5l3 3v9.5a1 1 0 0 1-1 1h-9.5a1 1 0 0 1-1-1v-11.5a1 1 0 0 1 1-1z" fill="#fdfdfd" stroke="#8a8a8a" stroke-width="1"/>
<path d="M546.5 4.5v3h3" fill="#e8e8e8" stroke="#8a8a8a" stroke-width="0.8"/>
<text x="540.5" y="14.5" style="font-size:9px;font-style:italic;font-weight:bold;fill:#606040">f</text>
<path d="M546 10.5h4v4h4v4h-4v4h-4v-4h-4v-4h4z" fill="url(#grn)" stroke="#0a7c0a" stroke-width="0.9"/>
<path d="M559.7 10.8h5.6L562.5 14z" fill="#000"/>
<circle cx="584" cy="12" r="7" fill="#fafcff" stroke="#1a68d0" stroke-width="2.2"/><circle cx="584" cy="12" r="8" fill="none" stroke="#0a48a8" stroke-width="0.5"/>
<path d="M584 7.5v4.6h3" stroke="#303030" stroke-width="1.1" fill="none"/><circle cx="584" cy="16.6" r="0.6" fill="#88a8d8"/><circle cx="579.6" cy="12" r="0.5" fill="#a0a0a0"/>
<path d="M598.5 10.8h5.6L601.3 14z" fill="#000"/>
<rect x="615.5" y="5.5" width="15.5" height="13.5" fill="#fff" stroke="#3a78d0" stroke-width="1.1"/><rect x="616" y="6" width="14.5" height="2.6" fill="#4a90e0"/><rect x="616" y="13" width="14.5" height="0.9" fill="#6a9ae0"/>
<path d="M617.5 11.6l2-.6 2-1.2 2 .8 2-.6 2.5-1" stroke="#c02010" stroke-width="1.1" fill="none"/><path d="M618 16.8l2-.4 2-1 2 .6 2-1.8 2.6 2" stroke="#20a030" stroke-width="1.1" fill="none"/>
<path d="M637.7 10.8h5.6L640.5 14z" fill="#000"/>
<path d="M667 5L667 16L669.5 13.8L672 19.2L674.2 18.2L671.7 13L675.2 12.6z" fill="#484848"/>
<g shape-rendering="crispEdges" fill="#505050"><rect x="692" y="12" width="6" height="1"/><rect x="701" y="12" width="6" height="1"/><rect x="699" y="5" width="1" height="6"/><rect x="699" y="14" width="1" height="6"/><rect x="699" y="12" width="1" height="1"/></g>
<g shape-rendering="crispEdges" fill="#505050"><rect x="733" y="6" width="1" height="13"/><rect x="756" y="12" width="12" height="1"/></g>
<line x1="783.8" y1="19" x2="796" y2="6.6" stroke="#505050" stroke-width="1.1"/>
<g stroke="#505050" stroke-width="1" fill="none"><path d="M810 15.5L821.5 5.5M814.5 18.8L824 10"/><path d="M811 13.5l3.5 5M814 11l3.5 5M817 8.5l3.5 5M820 6l3 4.5M821.5 4v5" stroke-width="0.9"/></g>
<text x="820.6" y="21" style="font-size:7px;font-weight:bold;fill:#404040">E</text>
<g stroke="#505050" stroke-width="1" stroke-dasharray="1 1" shape-rendering="crispEdges"><path d="M839 5.5h13M839 9.5h13M839 12.5h13M839 16.5h9"/></g>
<text x="848.8" y="21" style="font-size:7px;font-weight:bold;fill:#404040">F</text>
<text x="869.6" y="17" style="font-size:12.5px;fill:#404040;stroke:#404040;stroke-width:0.5" textLength="8.2" lengthAdjust="spacingAndGlyphs">A</text>
<rect x="896.5" y="6.5" width="11.5" height="12" fill="none" stroke="#505050" stroke-width="1" stroke-dasharray="1 1" shape-rendering="crispEdges"/>
<text x="898.2" y="17.2" style="font-size:12px;fill:#404040;stroke:#404040;stroke-width:0.5" textLength="7.6" lengthAdjust="spacingAndGlyphs">T</text>
<path d="M923 9.6L926.6 6L930.2 9.6L926.6 11z" fill="#484848"/><path d="M925.8 13l2 2.2L931.5 10.6" stroke="#484848" stroke-width="1.2" fill="none"/><path d="M930 15.2L933.6 14L937.2 15.2L933.6 19z" fill="#484848"/>
<path d="M943.8000000000001 10.8h5.6L946.6 14z" fill="#000"/>
<text x="970.5" y="16" style="font-size:10.4px;fill:#303030;stroke:#303030;stroke-width:0.15" textLength="12.5" lengthAdjust="spacingAndGlyphs">M1</text>
<text x="998.5" y="16" style="font-size:10.4px;fill:#303030;stroke:#303030;stroke-width:0.15" textLength="12.5" lengthAdjust="spacingAndGlyphs">M5</text>
<text x="1024.7" y="16" style="font-size:10.4px;fill:#303030;stroke:#303030;stroke-width:0.15" textLength="17.6" lengthAdjust="spacingAndGlyphs">M15</text>
<text x="1052.3" y="16" style="font-size:10.4px;fill:#303030;stroke:#303030;stroke-width:0.15" textLength="18.2" lengthAdjust="spacingAndGlyphs">M30</text>
<text x="1083.5" y="16" style="font-size:10.4px;fill:#303030;stroke:#303030;stroke-width:0.15" textLength="12" lengthAdjust="spacingAndGlyphs">H1</text>
<text x="1110.5" y="16" style="font-size:10.4px;fill:#303030;stroke:#303030;stroke-width:0.15" textLength="12.5" lengthAdjust="spacingAndGlyphs">H4</text>
<text x="1139.5" y="16" style="font-size:10.4px;fill:#303030;stroke:#303030;stroke-width:0.15" textLength="11.9" lengthAdjust="spacingAndGlyphs">D1</text>
<text x="1167" y="16" style="font-size:10.4px;fill:#303030;stroke:#303030;stroke-width:0.15" textLength="14" lengthAdjust="spacingAndGlyphs">W1</text>
<text x="1193.5" y="16" style="font-size:10.4px;fill:#303030;stroke:#303030;stroke-width:0.15" textLength="15" lengthAdjust="spacingAndGlyphs">MN</text>
<line x1="1684" y1="12.4" x2="1679.4" y2="16.8" stroke="#2462d4" stroke-width="2.2" stroke-linecap="round"/><circle cx="1686.6" cy="9.3" r="4" fill="#fafcff" stroke="#2a62d8" stroke-width="1.1"/>
<path d="M1720.2 13.2l2 2.6l-.2-2.7z" fill="#707070"/><ellipse cx="1719" cy="8.8" rx="6.4" ry="4.6" fill="url(#bub)" stroke="#a2a2a2" stroke-width="0.8"/>
<path d="M1708.4 16.4l-1.2 2.6l2.8-2.3z" fill="#707070"/><ellipse cx="1710.3" cy="13" rx="5" ry="3.8" fill="url(#bub)" stroke="#a2a2a2" stroke-width="0.8"/>
</g>
</svg></body></html>
